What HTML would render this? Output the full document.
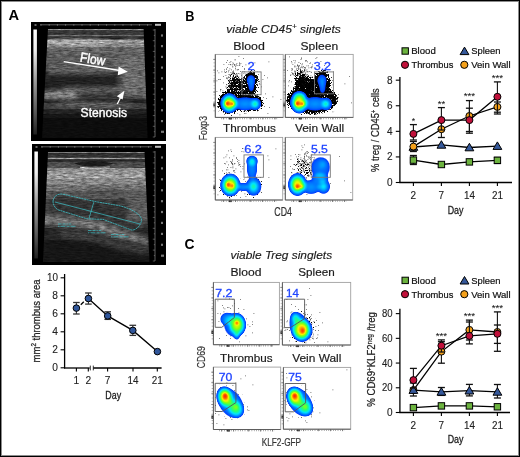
<!DOCTYPE html>
<html><head><meta charset="utf-8"><title>figure</title>
<style>
html,body{margin:0;padding:0;background:#fff;}
body{width:520px;height:457px;overflow:hidden;}
svg{display:block;will-change:transform;}
text{font-family:"Liberation Sans",sans-serif;}
</style></head><body>
<svg width="520" height="457" viewBox="0 0 520 457">
<defs>
<filter id="speck" x="0" y="0" width="1" height="1" color-interpolation-filters="sRGB">
<feTurbulence type="fractalNoise" baseFrequency="0.16 0.7" numOctaves="3" seed="4" result="n"/>
<feColorMatrix in="n" type="matrix" values="1 0 0 0 0  1 0 0 0 0  1 0 0 0 0  0 0 0 0 1" result="g"/>
<feComposite in="SourceGraphic" in2="g" operator="arithmetic" k1="1.1" k2="0.45" k3="0" k4="0"/>
</filter>
<filter id="blur1" x="-20%" y="-20%" width="140%" height="140%"><feGaussianBlur stdDeviation="1.0"/></filter>
<filter id="blur2" x="-30%" y="-30%" width="160%" height="160%"><feGaussianBlur stdDeviation="1.6"/></filter>
<filter id="blurUS" x="-5%" y="-5%" width="110%" height="110%"><feGaussianBlur stdDeviation="0.7"/></filter>
<filter id="blurUS2" x="-30%" y="-30%" width="160%" height="160%"><feGaussianBlur stdDeviation="2.5"/></filter>
<filter id="jet" x="-20%" y="-20%" width="140%" height="140%" color-interpolation-filters="sRGB">
<feGaussianBlur in="SourceAlpha" stdDeviation="0.9" result="b"/>
<feColorMatrix in="b" type="matrix" values="0 0 0 1 0  0 0 0 1 0  0 0 0 1 0  0 0 0 1 0" result="c"/>
<feComponentTransfer in="c"><feFuncR type="table" tableValues="0.000 0.000 0.000 0.000 0.000 0.000 0.000 0.000 0.000 0.000 0.000 0.000 0.000 0.000 0.000 0.000 0.000 0.005 0.032 0.059 0.086 0.112 0.139 0.200 0.283 0.367 0.450 0.533 0.640 0.752 0.865 0.978 1.000 1.000 1.000 1.000 1.000 1.000 1.000 1.000 1.000"/><feFuncG type="table" tableValues="0.100 0.133 0.167 0.205 0.247 0.289 0.332 0.374 0.416 0.458 0.500 0.559 0.618 0.676 0.735 0.794 0.853 0.904 0.921 0.939 0.957 0.975 0.993 1.000 1.000 1.000 1.000 1.000 0.990 0.978 0.965 0.952 0.850 0.725 0.600 0.475 0.375 0.281 0.188 0.094 0.000"/><feFuncB type="table" tableValues="1.000 1.000 1.000 1.000 1.000 1.000 1.000 1.000 1.000 1.000 1.000 1.000 1.000 1.000 1.000 1.000 1.000 0.980 0.882 0.784 0.686 0.588 0.489 0.400 0.317 0.233 0.150 0.067 0.040 0.028 0.015 0.003 0.000 0.000 0.000 0.000 0.000 0.000 0.000 0.000 0.000"/><feFuncA type="table" tableValues="0 0 1 1 1 1 1 1 1 1 1 1 1 1 1 1 1 1 1 1"/></feComponentTransfer>
</filter>
<filter id="sh" x="-30%" y="-30%" width="160%" height="160%" color-interpolation-filters="sRGB">
<feGaussianBlur in="SourceAlpha" stdDeviation="1.6" result="a"/>
<feTurbulence type="fractalNoise" baseFrequency="1.3" numOctaves="1" seed="5" result="n"/>
<feColorMatrix in="n" type="matrix" values="0 0 0 0 0  0 0 0 0 0  0 0 0 0 0  -2.25 0 0 0 1.625" result="ninv"/>
<feComposite in="a" in2="ninv" operator="arithmetic" k1="0" k2="1" k3="1" k4="-1" result="d"/>
<feComponentTransfer in="d"><feFuncA type="table" tableValues="0 0.9 1 1 1 1 1 1 1 1"/></feComponentTransfer>
</filter>
<radialGradient id="lobe"><stop offset="0" stop-color="#000" stop-opacity="0.8"/><stop offset="0.35" stop-color="#000" stop-opacity="0.74"/><stop offset="0.5" stop-color="#000" stop-opacity="0.58"/><stop offset="0.62" stop-color="#000" stop-opacity="0.45"/><stop offset="0.76" stop-color="#000" stop-opacity="0.3"/><stop offset="1" stop-color="#000" stop-opacity="0"/></radialGradient>
<radialGradient id="flat"><stop offset="0" stop-color="#000" stop-opacity="1"/><stop offset="0.6" stop-color="#000" stop-opacity="0.75"/><stop offset="0.85" stop-color="#000" stop-opacity="0.45"/><stop offset="1" stop-color="#000" stop-opacity="0"/></radialGradient>
<radialGradient id="cone"><stop offset="0" stop-color="#000" stop-opacity="1"/><stop offset="0.5" stop-color="#000" stop-opacity="0.55"/><stop offset="1" stop-color="#000" stop-opacity="0"/></radialGradient>
<linearGradient id="gbar" x1="0" y1="0" x2="0" y2="1">
<stop offset="0" stop-color="#fff"/><stop offset="0.2" stop-color="#eee"/><stop offset="0.5" stop-color="#999"/><stop offset="0.8" stop-color="#555"/><stop offset="1" stop-color="#222"/>
</linearGradient>
</defs>
<rect x="0" y="0" width="520" height="457" fill="#fff"/>

<rect x="31" y="22" width="135" height="119" fill="#000"/>
<rect x="33.4" y="29.5" width="3.5" height="105" fill="url(#gbar)"/>
<rect x="34.5" y="24" width="2" height="2" fill="#666"/>
<line x1="40" y1="24.8" x2="152" y2="24.8" stroke="#777" stroke-width="0.8"/>
<line x1="41.0" y1="24.2" x2="41.0" y2="25.8" stroke="#999" stroke-width="0.6"/>
<line x1="49.2" y1="24.2" x2="49.2" y2="25.8" stroke="#999" stroke-width="0.6"/>
<line x1="57.4" y1="24.2" x2="57.4" y2="25.8" stroke="#999" stroke-width="0.6"/>
<line x1="65.6" y1="24.2" x2="65.6" y2="25.8" stroke="#999" stroke-width="0.6"/>
<line x1="73.8" y1="24.2" x2="73.8" y2="25.8" stroke="#999" stroke-width="0.6"/>
<line x1="82.0" y1="24.2" x2="82.0" y2="25.8" stroke="#999" stroke-width="0.6"/>
<line x1="90.2" y1="24.2" x2="90.2" y2="25.8" stroke="#999" stroke-width="0.6"/>
<line x1="98.4" y1="24.2" x2="98.4" y2="25.8" stroke="#999" stroke-width="0.6"/>
<line x1="106.6" y1="24.2" x2="106.6" y2="25.8" stroke="#999" stroke-width="0.6"/>
<line x1="114.8" y1="24.2" x2="114.8" y2="25.8" stroke="#999" stroke-width="0.6"/>
<line x1="123.0" y1="24.2" x2="123.0" y2="25.8" stroke="#999" stroke-width="0.6"/>
<line x1="131.2" y1="24.2" x2="131.2" y2="25.8" stroke="#999" stroke-width="0.6"/>
<line x1="139.4" y1="24.2" x2="139.4" y2="25.8" stroke="#999" stroke-width="0.6"/>
<line x1="147.6" y1="24.2" x2="147.6" y2="25.8" stroke="#999" stroke-width="0.6"/>
<rect x="155" y="23.8" width="6" height="2" fill="#bbb"/>
<line x1="155" y1="29" x2="155" y2="137" stroke="#777" stroke-width="0.8"/>
<line x1="152.8" y1="30.0" x2="155" y2="30.0" stroke="#888" stroke-width="0.6"/>
<line x1="153.8" y1="35.4" x2="155" y2="35.4" stroke="#888" stroke-width="0.6"/>
<line x1="152.8" y1="40.7" x2="155" y2="40.7" stroke="#888" stroke-width="0.6"/>
<line x1="153.8" y1="46.0" x2="155" y2="46.0" stroke="#888" stroke-width="0.6"/>
<line x1="152.8" y1="51.4" x2="155" y2="51.4" stroke="#888" stroke-width="0.6"/>
<line x1="153.8" y1="56.8" x2="155" y2="56.8" stroke="#888" stroke-width="0.6"/>
<line x1="152.8" y1="62.1" x2="155" y2="62.1" stroke="#888" stroke-width="0.6"/>
<line x1="153.8" y1="67.5" x2="155" y2="67.5" stroke="#888" stroke-width="0.6"/>
<line x1="152.8" y1="72.8" x2="155" y2="72.8" stroke="#888" stroke-width="0.6"/>
<line x1="153.8" y1="78.2" x2="155" y2="78.2" stroke="#888" stroke-width="0.6"/>
<line x1="152.8" y1="83.5" x2="155" y2="83.5" stroke="#888" stroke-width="0.6"/>
<line x1="153.8" y1="88.8" x2="155" y2="88.8" stroke="#888" stroke-width="0.6"/>
<line x1="152.8" y1="94.2" x2="155" y2="94.2" stroke="#888" stroke-width="0.6"/>
<line x1="153.8" y1="99.5" x2="155" y2="99.5" stroke="#888" stroke-width="0.6"/>
<line x1="152.8" y1="104.9" x2="155" y2="104.9" stroke="#888" stroke-width="0.6"/>
<line x1="153.8" y1="110.2" x2="155" y2="110.2" stroke="#888" stroke-width="0.6"/>
<line x1="152.8" y1="115.6" x2="155" y2="115.6" stroke="#888" stroke-width="0.6"/>
<line x1="153.8" y1="121.0" x2="155" y2="121.0" stroke="#888" stroke-width="0.6"/>
<line x1="152.8" y1="126.3" x2="155" y2="126.3" stroke="#888" stroke-width="0.6"/>
<line x1="153.8" y1="131.7" x2="155" y2="131.7" stroke="#888" stroke-width="0.6"/>
<line x1="152.8" y1="137.0" x2="155" y2="137.0" stroke="#888" stroke-width="0.6"/>
<rect x="161" y="34.4" width="2" height="2.2" fill="#777"/>
<rect x="161" y="45.0" width="2" height="2.2" fill="#777"/>
<rect x="161" y="55.8" width="2" height="2.2" fill="#777"/>
<rect x="161" y="66.5" width="2" height="2.2" fill="#777"/>
<rect x="161" y="77.2" width="2" height="2.2" fill="#777"/>
<rect x="161" y="87.8" width="2" height="2.2" fill="#777"/>
<rect x="161" y="98.5" width="2" height="2.2" fill="#777"/>
<rect x="161" y="109.2" width="2" height="2.2" fill="#777"/>
<rect x="161" y="120.0" width="2" height="2.2" fill="#777"/>
<rect x="161" y="130.7" width="3" height="2.2" fill="#777"/>
<clipPath id="sec1"><polygon points="48,29 143.6,29 147.6,138 42,138"/></clipPath>
<g clip-path="url(#sec1)"><g filter="url(#speck)">
<rect x="31" y="22" width="135" height="119" fill="#000"/>
<g filter="url(#blurUS)">
<rect x="31" y="29" width="135" height="1.5" fill="#8c8c8c"/>
<rect x="31" y="30.5" width="135" height="4.5" fill="#373737"/>
<rect x="31" y="35" width="135" height="1.6000000000000014" fill="#696969"/>
<rect x="31" y="36.6" width="135" height="2.8999999999999986" fill="#202020"/>
<rect x="31" y="39.5" width="135" height="3.5" fill="#969696"/>
<rect x="31" y="43" width="135" height="4" fill="#848484"/>
<rect x="31" y="47" width="135" height="6" fill="#646464"/>
<rect x="31" y="53" width="135" height="7" fill="#5c5c5c"/>
<rect x="31" y="60" width="135" height="8" fill="#585858"/>
<rect x="31" y="68" width="135" height="4" fill="#4a4a4a"/>
<rect x="31" y="72" width="135" height="18" fill="#2a2a2a"/>
<rect x="31" y="90" width="135" height="2" fill="#3c3c3c"/>
<rect x="31" y="92" width="135" height="7" fill="#343434"/>
<rect x="31" y="99" width="135" height="4" fill="#1e1e1e"/>
<rect x="31" y="103" width="135" height="6" fill="#3e3e3e"/>
<rect x="31" y="109" width="135" height="5" fill="#222222"/>
<rect x="31" y="114" width="135" height="4" fill="#181818"/>
<rect x="31" y="118" width="135" height="21" fill="#101010"/>
</g><g filter="url(#blurUS2)">
<path d="M42,73 L100,73 C114,75 122,81 121,87 C119,92 105,93 92,93 L42,93 Z" fill="#202020"/>
<path d="M116,58 L150,56 L150,98 L123,96 C121,90 122,80 116,58 Z" fill="#6c6c6c"/>
<ellipse cx="60" cy="95.5" rx="20" ry="3.4" fill="#909090"/>
<path d="M64,89 L112,89 C116,89 120,88 123,86 L124,88 C120,91 116,91.5 112,91.5 L64,91.5 Z" fill="#858585"/>
<ellipse cx="95" cy="104.5" rx="40" ry="2.6" fill="#6a6a6a"/>
<rect x="48" y="70.3" width="66" height="1.5" fill="#a0a0a0"/>
<ellipse cx="75" cy="42" rx="36" ry="2.4" fill="#bcbcbc"/>
<path d="M125,38 C135,39 142,41 146,44 L146,48 C140,45 132,43 125,42 Z" fill="#909090"/>
</g><g filter="url(#blurUS)">
</g></g></g>
<line x1="63.7" y1="61.7" x2="120" y2="70.5" stroke="#fff" stroke-width="1.3"/>
<polygon points="127.8,71.8 118.6,66.4 117.8,75.2" fill="#fff"/>
<text x="79.60" y="61.60" font-size="13.5" fill="#fff" stroke="#fff" stroke-width="0.45" textLength="25.20" lengthAdjust="spacingAndGlyphs" transform="rotate(9 79.60 61.60)">Flow</text>
<line x1="117.3" y1="104" x2="120.6" y2="97.5" stroke="#fff" stroke-width="1.3"/>
<polygon points="124.4,90.8 116.8,96.3 122.6,99.6" fill="#fff"/>
<text x="80.60" y="116.90" font-size="12.6" fill="#fff" stroke="#fff" stroke-width="0.4" textLength="46.40" lengthAdjust="spacingAndGlyphs">Stenosis</text>
<rect x="32" y="144" width="134" height="121" fill="#000"/>
<rect x="34.4" y="151.5" width="3.5" height="107" fill="url(#gbar)"/>
<rect x="35.5" y="146" width="2" height="2" fill="#666"/>
<line x1="41" y1="146.8" x2="152" y2="146.8" stroke="#777" stroke-width="0.8"/>
<line x1="42.0" y1="146.2" x2="42.0" y2="147.8" stroke="#999" stroke-width="0.6"/>
<line x1="50.2" y1="146.2" x2="50.2" y2="147.8" stroke="#999" stroke-width="0.6"/>
<line x1="58.4" y1="146.2" x2="58.4" y2="147.8" stroke="#999" stroke-width="0.6"/>
<line x1="66.6" y1="146.2" x2="66.6" y2="147.8" stroke="#999" stroke-width="0.6"/>
<line x1="74.8" y1="146.2" x2="74.8" y2="147.8" stroke="#999" stroke-width="0.6"/>
<line x1="83.0" y1="146.2" x2="83.0" y2="147.8" stroke="#999" stroke-width="0.6"/>
<line x1="91.2" y1="146.2" x2="91.2" y2="147.8" stroke="#999" stroke-width="0.6"/>
<line x1="99.4" y1="146.2" x2="99.4" y2="147.8" stroke="#999" stroke-width="0.6"/>
<line x1="107.6" y1="146.2" x2="107.6" y2="147.8" stroke="#999" stroke-width="0.6"/>
<line x1="115.8" y1="146.2" x2="115.8" y2="147.8" stroke="#999" stroke-width="0.6"/>
<line x1="124.0" y1="146.2" x2="124.0" y2="147.8" stroke="#999" stroke-width="0.6"/>
<line x1="132.2" y1="146.2" x2="132.2" y2="147.8" stroke="#999" stroke-width="0.6"/>
<line x1="140.4" y1="146.2" x2="140.4" y2="147.8" stroke="#999" stroke-width="0.6"/>
<line x1="148.6" y1="146.2" x2="148.6" y2="147.8" stroke="#999" stroke-width="0.6"/>
<rect x="155" y="145.8" width="6" height="2" fill="#bbb"/>
<line x1="155" y1="151" x2="155" y2="261" stroke="#777" stroke-width="0.8"/>
<line x1="152.8" y1="152.0" x2="155" y2="152.0" stroke="#888" stroke-width="0.6"/>
<line x1="153.8" y1="157.4" x2="155" y2="157.4" stroke="#888" stroke-width="0.6"/>
<line x1="152.8" y1="162.9" x2="155" y2="162.9" stroke="#888" stroke-width="0.6"/>
<line x1="153.8" y1="168.3" x2="155" y2="168.3" stroke="#888" stroke-width="0.6"/>
<line x1="152.8" y1="173.8" x2="155" y2="173.8" stroke="#888" stroke-width="0.6"/>
<line x1="153.8" y1="179.2" x2="155" y2="179.2" stroke="#888" stroke-width="0.6"/>
<line x1="152.8" y1="184.7" x2="155" y2="184.7" stroke="#888" stroke-width="0.6"/>
<line x1="153.8" y1="190.2" x2="155" y2="190.2" stroke="#888" stroke-width="0.6"/>
<line x1="152.8" y1="195.6" x2="155" y2="195.6" stroke="#888" stroke-width="0.6"/>
<line x1="153.8" y1="201.1" x2="155" y2="201.1" stroke="#888" stroke-width="0.6"/>
<line x1="152.8" y1="206.5" x2="155" y2="206.5" stroke="#888" stroke-width="0.6"/>
<line x1="153.8" y1="211.9" x2="155" y2="211.9" stroke="#888" stroke-width="0.6"/>
<line x1="152.8" y1="217.4" x2="155" y2="217.4" stroke="#888" stroke-width="0.6"/>
<line x1="153.8" y1="222.8" x2="155" y2="222.8" stroke="#888" stroke-width="0.6"/>
<line x1="152.8" y1="228.3" x2="155" y2="228.3" stroke="#888" stroke-width="0.6"/>
<line x1="153.8" y1="233.8" x2="155" y2="233.8" stroke="#888" stroke-width="0.6"/>
<line x1="152.8" y1="239.2" x2="155" y2="239.2" stroke="#888" stroke-width="0.6"/>
<line x1="153.8" y1="244.7" x2="155" y2="244.7" stroke="#888" stroke-width="0.6"/>
<line x1="152.8" y1="250.1" x2="155" y2="250.1" stroke="#888" stroke-width="0.6"/>
<line x1="153.8" y1="255.6" x2="155" y2="255.6" stroke="#888" stroke-width="0.6"/>
<line x1="152.8" y1="261.0" x2="155" y2="261.0" stroke="#888" stroke-width="0.6"/>
<rect x="161" y="156.4" width="2" height="2.2" fill="#777"/>
<rect x="161" y="167.3" width="2" height="2.2" fill="#777"/>
<rect x="161" y="178.2" width="2" height="2.2" fill="#777"/>
<rect x="161" y="189.2" width="2" height="2.2" fill="#777"/>
<rect x="161" y="200.1" width="2" height="2.2" fill="#777"/>
<rect x="161" y="210.9" width="2" height="2.2" fill="#777"/>
<rect x="161" y="221.8" width="2" height="2.2" fill="#777"/>
<rect x="161" y="232.8" width="2" height="2.2" fill="#777"/>
<rect x="161" y="243.7" width="2" height="2.2" fill="#777"/>
<rect x="161" y="254.6" width="3" height="2.2" fill="#777"/>
<clipPath id="sec2"><polygon points="48,152 144.5,152 149.5,262 43,262"/></clipPath>
<g clip-path="url(#sec2)"><g filter="url(#speck)">
<rect x="32" y="144" width="134" height="121" fill="#000"/>
<g filter="url(#blurUS)">
<rect x="32" y="152" width="134" height="1.3000000000000114" fill="#7d7d7d"/>
<rect x="32" y="153.3" width="134" height="4.199999999999989" fill="#303030"/>
<rect x="32" y="157.5" width="134" height="1.5" fill="#737373"/>
<rect x="32" y="159" width="134" height="2.5" fill="#2a2a2a"/>
<rect x="32" y="161.5" width="134" height="6.5" fill="#4e4e4e"/>
<rect x="32" y="168" width="134" height="4" fill="#8c8c8c"/>
<rect x="32" y="172" width="134" height="7" fill="#989898"/>
<rect x="32" y="179" width="134" height="6" fill="#848484"/>
<rect x="32" y="185" width="134" height="6" fill="#6e6e6e"/>
<rect x="32" y="191" width="134" height="8" fill="#585858"/>
<rect x="32" y="199" width="134" height="17" fill="#3a3a3a"/>
<rect x="32" y="216" width="134" height="12" fill="#373737"/>
<rect x="32" y="228" width="134" height="12" fill="#282828"/>
<rect x="32" y="240" width="134" height="23" fill="#161616"/>
</g><g filter="url(#blurUS2)">
<polygon points="53,201 57,194 95,202 120,206 141,218 132,230 103,219 87,219 57,210" fill="#303030"/>
<polygon points="42,215 70,218 100,222 125,231 150,239 150,245 120,238 95,229 70,225 42,223" fill="#7e7e7e"/>
<polygon points="60,229 95,233 120,242 150,248 150,255 120,250 95,242 60,237" fill="#3e3e3e"/>
<rect x="128" y="196" width="22" height="26" fill="#5a5a5a"/>
<ellipse cx="105" cy="193" rx="20" ry="3" fill="#4a4a4a"/>
</g><g filter="url(#blurUS)">
<path d="M74,163.8 C85,160.2 103,160.2 114,163.8 C104,167.2 85,167.2 74,163.8 Z" fill="#1a1a1a"/>
<path d="M80,167.2 C90,168.6 102,168.6 110,166.8" stroke="#c0c0c0" stroke-width="1.1" fill="none"/>
<rect x="48" y="158.2" width="100" height="0.9" fill="#a0a0a0"/>
</g></g></g>
<path d="M53,201 C54,196 57,194 62,194 L95,201.5 L120,205.8 C132,209 140,214 141.5,219 C142,224 137,230 132,230.2 L103,219.3 L87,218.8 L58,209.8 C55,208 53,205 53,201 Z" fill="none" stroke="#3cc4cc" stroke-width="0.75" stroke-dasharray="2.2 0.5"/>
<line x1="55" y1="202" x2="140" y2="224" stroke="#3cc4cc" stroke-width="0.7"/>
<line x1="93.8" y1="202.2" x2="89.1" y2="218" stroke="#3cc4cc" stroke-width="0.7"/>
<path d="M58 224h3.5m1 0h3m1 0h1.2m1 0h2.5M58 226.3h1.5m1 0h5m1 0h3m1 0h5" stroke="#3cc4cc" stroke-width="0.9" opacity="0.75"/>
<path d="M88 230.5h3.5m1 0h3m1 0h1.2m1 0h2.5M88 232.8h1.5m1 0h5m1 0h3m1 0h5" stroke="#3cc4cc" stroke-width="0.9" opacity="0.75"/>
<path d="M111 234.5h3.5m1 0h3m1 0h1.2m1 0h2.5M111 236.8h1.5m1 0h5m1 0h3m1 0h5" stroke="#3cc4cc" stroke-width="0.9" opacity="0.75"/>
<g>
<line x1="64.6" y1="274.0" x2="64.6" y2="368.4" stroke="#000" stroke-width="1.3"/>
<line x1="64" y1="368" x2="89.7" y2="368" stroke="#000" stroke-width="1.3"/>
<line x1="93.3" y1="368" x2="161.6" y2="368" stroke="#000" stroke-width="1.3"/>
<line x1="90.3" y1="365.6" x2="90.3" y2="370.4" stroke="#000" stroke-width="0.8"/>
<line x1="93.3" y1="365.6" x2="93.3" y2="370.4" stroke="#000" stroke-width="0.8"/>
<line x1="60.6" y1="367.80" x2="64.6" y2="367.80" stroke="#000" stroke-width="1.1"/>
<text x="57.90" y="371.10" font-size="10.2" fill="#222" stroke="#222" stroke-width="0.1" text-anchor="end">0</text>
<line x1="60.6" y1="349.80" x2="64.6" y2="349.80" stroke="#000" stroke-width="1.1"/>
<text x="57.90" y="353.10" font-size="10.2" fill="#222" stroke="#222" stroke-width="0.1" text-anchor="end">2</text>
<line x1="60.6" y1="331.80" x2="64.6" y2="331.80" stroke="#000" stroke-width="1.1"/>
<text x="57.90" y="335.10" font-size="10.2" fill="#222" stroke="#222" stroke-width="0.1" text-anchor="end">4</text>
<line x1="60.6" y1="313.80" x2="64.6" y2="313.80" stroke="#000" stroke-width="1.1"/>
<text x="57.90" y="317.10" font-size="10.2" fill="#222" stroke="#222" stroke-width="0.1" text-anchor="end">6</text>
<line x1="60.6" y1="295.80" x2="64.6" y2="295.80" stroke="#000" stroke-width="1.1"/>
<text x="57.90" y="299.10" font-size="10.2" fill="#222" stroke="#222" stroke-width="0.1" text-anchor="end">8</text>
<line x1="60.6" y1="277.80" x2="64.6" y2="277.80" stroke="#000" stroke-width="1.1"/>
<text x="57.90" y="281.10" font-size="10.2" fill="#222" stroke="#222" stroke-width="0.1" text-anchor="end" textLength="11.00" lengthAdjust="spacingAndGlyphs">10</text>
<line x1="76.4" y1="368" x2="76.4" y2="371.6" stroke="#000" stroke-width="1.1"/>
<text x="76.40" y="384.40" font-size="10.2" fill="#222" stroke="#222" stroke-width="0.1" text-anchor="middle">1</text>
<line x1="88.3" y1="368" x2="88.3" y2="371.6" stroke="#000" stroke-width="1.1"/>
<text x="88.30" y="384.40" font-size="10.2" fill="#222" stroke="#222" stroke-width="0.1" text-anchor="middle">2</text>
<line x1="107.6" y1="368" x2="107.6" y2="371.6" stroke="#000" stroke-width="1.1"/>
<text x="107.60" y="384.40" font-size="10.2" fill="#222" stroke="#222" stroke-width="0.1" text-anchor="middle">7</text>
<line x1="133.0" y1="368" x2="133.0" y2="371.6" stroke="#000" stroke-width="1.1"/>
<text x="133.00" y="384.40" font-size="10.2" fill="#222" stroke="#222" stroke-width="0.1" text-anchor="middle" textLength="11.00" lengthAdjust="spacingAndGlyphs">14</text>
<line x1="157.3" y1="368" x2="157.3" y2="371.6" stroke="#000" stroke-width="1.1"/>
<text x="157.30" y="384.40" font-size="10.2" fill="#222" stroke="#222" stroke-width="0.1" text-anchor="middle" textLength="11.00" lengthAdjust="spacingAndGlyphs">21</text>
<text x="113.20" y="398.50" font-size="10.6" fill="#222" stroke="#222" stroke-width="0.3" text-anchor="middle" textLength="15.80" lengthAdjust="spacingAndGlyphs">Day</text>
<text x="40.00" y="362.40" font-size="10.6" fill="#222" stroke="#222" stroke-width="0.25" textLength="83.00" lengthAdjust="spacingAndGlyphs" transform="rotate(-90 40.00 362.40)">mm<tspan font-size="7" dy="-4">2</tspan><tspan dy="4"> thrombus area</tspan></text>
<line x1="76.40" y1="302.50" x2="76.40" y2="314.00" stroke="#333" stroke-width="1.1"/>
<line x1="73.10" y1="302.50" x2="79.70" y2="302.50" stroke="#333" stroke-width="1.3"/>
<line x1="73.10" y1="314.00" x2="79.70" y2="314.00" stroke="#333" stroke-width="1.3"/>
<line x1="88.40" y1="293.00" x2="88.40" y2="304.10" stroke="#333" stroke-width="1.1"/>
<line x1="85.10" y1="293.00" x2="91.70" y2="293.00" stroke="#333" stroke-width="1.3"/>
<line x1="85.10" y1="304.10" x2="91.70" y2="304.10" stroke="#333" stroke-width="1.3"/>
<line x1="107.70" y1="311.80" x2="107.70" y2="319.40" stroke="#333" stroke-width="1.1"/>
<line x1="104.40" y1="311.80" x2="111.00" y2="311.80" stroke="#333" stroke-width="1.3"/>
<line x1="104.40" y1="319.40" x2="111.00" y2="319.40" stroke="#333" stroke-width="1.3"/>
<line x1="132.80" y1="325.30" x2="132.80" y2="335.40" stroke="#333" stroke-width="1.1"/>
<line x1="129.50" y1="325.30" x2="136.10" y2="325.30" stroke="#333" stroke-width="1.3"/>
<line x1="129.50" y1="335.40" x2="136.10" y2="335.40" stroke="#333" stroke-width="1.3"/>
<line x1="80.8" y1="304.8" x2="83.8" y2="301.8" stroke="#000" stroke-width="1.3"/>
<polyline points="88.40,298.50 107.70,315.90 132.80,330.40 157.40,351.60" fill="none" stroke="#000" stroke-width="1.3"/>
<circle cx="76.40" cy="308.10" r="3.3" fill="#30569a" stroke="#000" stroke-width="1"/>
<circle cx="88.40" cy="298.50" r="3.3" fill="#30569a" stroke="#000" stroke-width="1"/>
<circle cx="107.70" cy="315.90" r="3.3" fill="#30569a" stroke="#000" stroke-width="1"/>
<circle cx="132.80" cy="330.40" r="3.3" fill="#30569a" stroke="#000" stroke-width="1"/>
<circle cx="157.40" cy="351.60" r="3.3" fill="#30569a" stroke="#000" stroke-width="1"/>
</g>
<rect x="402.00" y="47.80" width="6.40" height="6.40" fill="#6cb33f" stroke="#000" stroke-width="1"/>
<text x="411.20" y="54.30" font-size="9.6" fill="#111" stroke="#111" stroke-width="0.2" textLength="24.60" lengthAdjust="spacingAndGlyphs">Blood</text>
<polygon points="464.50,47.10 468.90,54.60 460.10,54.60" fill="#35589a" stroke="#000" stroke-width="1" stroke-linejoin="round"/>
<text x="471.20" y="54.30" font-size="9.6" fill="#111" stroke="#111" stroke-width="0.2" textLength="29.20" lengthAdjust="spacingAndGlyphs">Spleen</text>
<circle cx="405.00" cy="64.80" r="3.6" fill="#c0103a" stroke="#000" stroke-width="1"/>
<text x="411.50" y="68.30" font-size="9.6" fill="#111" stroke="#111" stroke-width="0.2" textLength="41.80" lengthAdjust="spacingAndGlyphs">Thrombus</text>
<circle cx="464.30" cy="64.80" r="3.6" fill="#f4a11c" stroke="#000" stroke-width="1"/>
<text x="471.20" y="68.30" font-size="9.6" fill="#111" stroke="#111" stroke-width="0.2" textLength="39.40" lengthAdjust="spacingAndGlyphs">Vein Wall</text>
<line x1="399.9" y1="77" x2="399.9" y2="183.1" stroke="#000" stroke-width="1.3"/>
<line x1="399.3" y1="182.5" x2="512" y2="182.5" stroke="#000" stroke-width="1.3"/>
<line x1="395.8" y1="182.50" x2="399.9" y2="182.50" stroke="#000" stroke-width="1.1"/>
<text x="392.60" y="186.00" font-size="10.0" fill="#222" stroke="#222" stroke-width="0.12" text-anchor="end">0</text>
<line x1="395.8" y1="156.92" x2="399.9" y2="156.92" stroke="#000" stroke-width="1.1"/>
<text x="392.60" y="160.42" font-size="10.0" fill="#222" stroke="#222" stroke-width="0.12" text-anchor="end">2</text>
<line x1="395.8" y1="131.34" x2="399.9" y2="131.34" stroke="#000" stroke-width="1.1"/>
<text x="392.60" y="134.84" font-size="10.0" fill="#222" stroke="#222" stroke-width="0.12" text-anchor="end">4</text>
<line x1="395.8" y1="105.76" x2="399.9" y2="105.76" stroke="#000" stroke-width="1.1"/>
<text x="392.60" y="109.26" font-size="10.0" fill="#222" stroke="#222" stroke-width="0.12" text-anchor="end">6</text>
<line x1="395.8" y1="80.18" x2="399.9" y2="80.18" stroke="#000" stroke-width="1.1"/>
<text x="392.60" y="83.68" font-size="10.0" fill="#222" stroke="#222" stroke-width="0.12" text-anchor="end">8</text>
<line x1="413.4" y1="182.5" x2="413.4" y2="186.1" stroke="#000" stroke-width="1.1"/>
<text x="413.40" y="199.00" font-size="10.0" fill="#222" stroke="#222" stroke-width="0.12" text-anchor="middle">2</text>
<line x1="441.4" y1="182.5" x2="441.4" y2="186.1" stroke="#000" stroke-width="1.1"/>
<text x="441.40" y="199.00" font-size="10.0" fill="#222" stroke="#222" stroke-width="0.12" text-anchor="middle">7</text>
<line x1="469.4" y1="182.5" x2="469.4" y2="186.1" stroke="#000" stroke-width="1.1"/>
<text x="469.40" y="199.00" font-size="10.0" fill="#222" stroke="#222" stroke-width="0.12" text-anchor="middle" textLength="11.00" lengthAdjust="spacingAndGlyphs">14</text>
<line x1="497.4" y1="182.5" x2="497.4" y2="186.1" stroke="#000" stroke-width="1.1"/>
<text x="497.40" y="199.00" font-size="10.0" fill="#222" stroke="#222" stroke-width="0.12" text-anchor="middle" textLength="11.00" lengthAdjust="spacingAndGlyphs">21</text>
<text x="455.60" y="214.00" font-size="11" fill="#222" stroke="#222" stroke-width="0.3" text-anchor="middle" textLength="15.80" lengthAdjust="spacingAndGlyphs">Day</text>
<text x="379.40" y="171.90" font-size="10.2" fill="#222" stroke="#222" stroke-width="0.22" textLength="83.60" lengthAdjust="spacingAndGlyphs" transform="rotate(-90 379.40 171.90)">% treg / CD45<tspan font-size="6.5" dy="-3.5">+</tspan><tspan dy="3.5"> cells</tspan></text>
<polyline points="413.40,160.10 441.40,164.50 469.40,161.90 497.40,160.30" fill="none" stroke="#000" stroke-width="1.3"/>
<line x1="413.40" y1="155.50" x2="413.40" y2="164.50" stroke="#111" stroke-width="1.1"/>
<line x1="409.90" y1="155.50" x2="416.90" y2="155.50" stroke="#111" stroke-width="1.3"/>
<line x1="409.90" y1="164.50" x2="416.90" y2="164.50" stroke="#111" stroke-width="1.3"/>
<line x1="497.40" y1="157.50" x2="497.40" y2="163.50" stroke="#111" stroke-width="1.1"/>
<line x1="493.90" y1="157.50" x2="500.90" y2="157.50" stroke="#111" stroke-width="1.3"/>
<line x1="493.90" y1="163.50" x2="500.90" y2="163.50" stroke="#111" stroke-width="1.3"/>
<rect x="410.20" y="156.90" width="6.40" height="6.40" fill="#6cb33f" stroke="#000" stroke-width="1"/>
<rect x="438.20" y="161.30" width="6.40" height="6.40" fill="#6cb33f" stroke="#000" stroke-width="1"/>
<rect x="466.20" y="158.70" width="6.40" height="6.40" fill="#6cb33f" stroke="#000" stroke-width="1"/>
<rect x="494.20" y="157.10" width="6.40" height="6.40" fill="#6cb33f" stroke="#000" stroke-width="1"/>
<polyline points="413.40,147.00 441.40,144.90 469.40,147.50 497.40,146.10" fill="none" stroke="#000" stroke-width="1.3"/>
<polygon points="413.40,142.80 417.80,150.30 409.00,150.30" fill="#35589a" stroke="#000" stroke-width="1" stroke-linejoin="round"/>
<polygon points="441.40,140.70 445.80,148.20 437.00,148.20" fill="#35589a" stroke="#000" stroke-width="1" stroke-linejoin="round"/>
<polygon points="469.40,143.30 473.80,150.80 465.00,150.80" fill="#35589a" stroke="#000" stroke-width="1" stroke-linejoin="round"/>
<polygon points="497.40,141.90 501.80,149.40 493.00,149.40" fill="#35589a" stroke="#000" stroke-width="1" stroke-linejoin="round"/>
<line x1="413.40" y1="141.50" x2="413.40" y2="151.50" stroke="#111" stroke-width="1.1"/>
<line x1="409.90" y1="141.50" x2="416.90" y2="141.50" stroke="#111" stroke-width="1.3"/>
<line x1="409.90" y1="151.50" x2="416.90" y2="151.50" stroke="#111" stroke-width="1.3"/>
<line x1="441.40" y1="120.50" x2="441.40" y2="137.50" stroke="#111" stroke-width="1.1"/>
<line x1="437.90" y1="120.50" x2="444.90" y2="120.50" stroke="#111" stroke-width="1.3"/>
<line x1="437.90" y1="137.50" x2="444.90" y2="137.50" stroke="#111" stroke-width="1.3"/>
<line x1="469.40" y1="108.20" x2="469.40" y2="133.20" stroke="#111" stroke-width="1.1"/>
<line x1="465.90" y1="108.20" x2="472.90" y2="108.20" stroke="#111" stroke-width="1.3"/>
<line x1="465.90" y1="133.20" x2="472.90" y2="133.20" stroke="#111" stroke-width="1.3"/>
<line x1="497.40" y1="102.00" x2="497.40" y2="112.20" stroke="#111" stroke-width="1.1"/>
<line x1="493.90" y1="102.00" x2="500.90" y2="102.00" stroke="#111" stroke-width="1.3"/>
<line x1="493.90" y1="112.20" x2="500.90" y2="112.20" stroke="#111" stroke-width="1.3"/>
<polyline points="413.40,146.60 441.40,129.20 469.40,116.00 497.40,106.90" fill="none" stroke="#000" stroke-width="1.3"/>
<circle cx="413.40" cy="146.60" r="3.5" fill="#f4a11c" stroke="#000" stroke-width="1"/>
<circle cx="441.40" cy="129.20" r="3.5" fill="#f4a11c" stroke="#000" stroke-width="1"/>
<circle cx="469.40" cy="116.00" r="3.5" fill="#f4a11c" stroke="#000" stroke-width="1"/>
<circle cx="497.40" cy="106.90" r="3.5" fill="#f4a11c" stroke="#000" stroke-width="1"/>
<line x1="413.40" y1="124.60" x2="413.40" y2="140.00" stroke="#111" stroke-width="1.1"/>
<line x1="409.90" y1="124.60" x2="416.90" y2="124.60" stroke="#111" stroke-width="1.3"/>
<line x1="409.90" y1="140.00" x2="416.90" y2="140.00" stroke="#111" stroke-width="1.3"/>
<line x1="441.40" y1="107.60" x2="441.40" y2="130.00" stroke="#111" stroke-width="1.1"/>
<line x1="437.90" y1="107.60" x2="444.90" y2="107.60" stroke="#111" stroke-width="1.3"/>
<line x1="437.90" y1="130.00" x2="444.90" y2="130.00" stroke="#111" stroke-width="1.3"/>
<line x1="469.40" y1="100.60" x2="469.40" y2="131.50" stroke="#111" stroke-width="1.1"/>
<line x1="465.90" y1="100.60" x2="472.90" y2="100.60" stroke="#111" stroke-width="1.3"/>
<line x1="465.90" y1="131.50" x2="472.90" y2="131.50" stroke="#111" stroke-width="1.3"/>
<line x1="497.40" y1="81.90" x2="497.40" y2="114.00" stroke="#111" stroke-width="1.1"/>
<line x1="493.90" y1="81.90" x2="500.90" y2="81.90" stroke="#111" stroke-width="1.3"/>
<line x1="493.90" y1="114.00" x2="500.90" y2="114.00" stroke="#111" stroke-width="1.3"/>
<polyline points="413.40,133.90 441.40,120.10 469.40,120.10 497.40,96.80" fill="none" stroke="#000" stroke-width="1.3"/>
<circle cx="413.40" cy="133.90" r="3.5" fill="#c0103a" stroke="#000" stroke-width="1"/>
<circle cx="441.40" cy="120.10" r="3.5" fill="#c0103a" stroke="#000" stroke-width="1"/>
<circle cx="469.40" cy="120.10" r="3.5" fill="#c0103a" stroke="#000" stroke-width="1"/>
<circle cx="497.40" cy="96.80" r="3.5" fill="#c0103a" stroke="#000" stroke-width="1"/>
<text x="413.40" y="124.00" font-size="9.8" fill="#111" stroke="#111" stroke-width="0.05" text-anchor="middle" textLength="3.40" lengthAdjust="spacingAndGlyphs">*</text>
<text x="441.40" y="106.90" font-size="9.8" fill="#111" stroke="#111" stroke-width="0.05" text-anchor="middle" textLength="7.40" lengthAdjust="spacingAndGlyphs">**</text>
<text x="469.40" y="99.00" font-size="9.8" fill="#111" stroke="#111" stroke-width="0.05" text-anchor="middle" textLength="11.40" lengthAdjust="spacingAndGlyphs">***</text>
<text x="497.40" y="81.00" font-size="9.8" fill="#111" stroke="#111" stroke-width="0.05" text-anchor="middle" textLength="11.40" lengthAdjust="spacingAndGlyphs">***</text>
<rect x="402.00" y="277.20" width="6.40" height="6.40" fill="#6cb33f" stroke="#000" stroke-width="1"/>
<text x="411.20" y="283.70" font-size="9.6" fill="#111" stroke="#111" stroke-width="0.2" textLength="24.60" lengthAdjust="spacingAndGlyphs">Blood</text>
<polygon points="464.50,276.50 468.90,284.00 460.10,284.00" fill="#35589a" stroke="#000" stroke-width="1" stroke-linejoin="round"/>
<text x="471.20" y="283.70" font-size="9.6" fill="#111" stroke="#111" stroke-width="0.2" textLength="29.20" lengthAdjust="spacingAndGlyphs">Spleen</text>
<circle cx="405.00" cy="294.20" r="3.6" fill="#c0103a" stroke="#000" stroke-width="1"/>
<text x="411.50" y="297.70" font-size="9.6" fill="#111" stroke="#111" stroke-width="0.2" textLength="41.80" lengthAdjust="spacingAndGlyphs">Thrombus</text>
<circle cx="464.30" cy="294.20" r="3.6" fill="#f4a11c" stroke="#000" stroke-width="1"/>
<text x="471.20" y="297.70" font-size="9.6" fill="#111" stroke="#111" stroke-width="0.2" textLength="39.40" lengthAdjust="spacingAndGlyphs">Vein Wall</text>
<line x1="399.9" y1="308.8" x2="399.9" y2="413.1" stroke="#000" stroke-width="1.3"/>
<line x1="399.3" y1="412.5" x2="510" y2="412.5" stroke="#000" stroke-width="1.3"/>
<line x1="395.8" y1="412.50" x2="399.9" y2="412.50" stroke="#000" stroke-width="1.1"/>
<text x="392.60" y="416.00" font-size="10.0" fill="#222" stroke="#222" stroke-width="0.12" text-anchor="end">0</text>
<line x1="395.8" y1="387.78" x2="399.9" y2="387.78" stroke="#000" stroke-width="1.1"/>
<text x="392.60" y="391.28" font-size="10.0" fill="#222" stroke="#222" stroke-width="0.12" text-anchor="end" textLength="10.60" lengthAdjust="spacingAndGlyphs">20</text>
<line x1="395.8" y1="363.06" x2="399.9" y2="363.06" stroke="#000" stroke-width="1.1"/>
<text x="392.60" y="366.56" font-size="10.0" fill="#222" stroke="#222" stroke-width="0.12" text-anchor="end" textLength="10.60" lengthAdjust="spacingAndGlyphs">40</text>
<line x1="395.8" y1="338.34" x2="399.9" y2="338.34" stroke="#000" stroke-width="1.1"/>
<text x="392.60" y="341.84" font-size="10.0" fill="#222" stroke="#222" stroke-width="0.12" text-anchor="end" textLength="10.60" lengthAdjust="spacingAndGlyphs">60</text>
<line x1="395.8" y1="313.62" x2="399.9" y2="313.62" stroke="#000" stroke-width="1.1"/>
<text x="392.60" y="317.12" font-size="10.0" fill="#222" stroke="#222" stroke-width="0.12" text-anchor="end" textLength="10.60" lengthAdjust="spacingAndGlyphs">80</text>
<line x1="413.4" y1="412.5" x2="413.4" y2="416.1" stroke="#000" stroke-width="1.1"/>
<text x="413.40" y="429.00" font-size="10.0" fill="#222" stroke="#222" stroke-width="0.12" text-anchor="middle">2</text>
<line x1="441.4" y1="412.5" x2="441.4" y2="416.1" stroke="#000" stroke-width="1.1"/>
<text x="441.40" y="429.00" font-size="10.0" fill="#222" stroke="#222" stroke-width="0.12" text-anchor="middle">7</text>
<line x1="469.4" y1="412.5" x2="469.4" y2="416.1" stroke="#000" stroke-width="1.1"/>
<text x="469.40" y="429.00" font-size="10.0" fill="#222" stroke="#222" stroke-width="0.12" text-anchor="middle" textLength="11.00" lengthAdjust="spacingAndGlyphs">14</text>
<line x1="497.4" y1="412.5" x2="497.4" y2="416.1" stroke="#000" stroke-width="1.1"/>
<text x="497.40" y="429.00" font-size="10.0" fill="#222" stroke="#222" stroke-width="0.12" text-anchor="middle" textLength="11.00" lengthAdjust="spacingAndGlyphs">21</text>
<text x="455.60" y="442.60" font-size="11" fill="#222" stroke="#222" stroke-width="0.3" text-anchor="middle" textLength="15.80" lengthAdjust="spacingAndGlyphs">Day</text>
<text x="375.20" y="406.80" font-size="10.2" fill="#222" stroke="#222" stroke-width="0.22" textLength="94.80" lengthAdjust="spacingAndGlyphs" transform="rotate(-90 375.20 406.80)">% CD69<tspan font-size="6.5" dy="-3.5">+</tspan><tspan dy="3.5">KLF2</tspan><tspan font-size="6.5" dy="-3.5">neg</tspan><tspan dy="3.5"> /treg</tspan></text>
<polyline points="413.40,407.60 441.40,405.90 469.40,405.90 497.40,406.80" fill="none" stroke="#000" stroke-width="1.3"/>
<rect x="410.20" y="404.40" width="6.40" height="6.40" fill="#6cb33f" stroke="#000" stroke-width="1"/>
<rect x="438.20" y="402.70" width="6.40" height="6.40" fill="#6cb33f" stroke="#000" stroke-width="1"/>
<rect x="466.20" y="402.70" width="6.40" height="6.40" fill="#6cb33f" stroke="#000" stroke-width="1"/>
<rect x="494.20" y="403.60" width="6.40" height="6.40" fill="#6cb33f" stroke="#000" stroke-width="1"/>
<line x1="413.40" y1="383.00" x2="413.40" y2="396.00" stroke="#111" stroke-width="1.1"/>
<line x1="409.90" y1="383.00" x2="416.90" y2="383.00" stroke="#111" stroke-width="1.3"/>
<line x1="409.90" y1="396.00" x2="416.90" y2="396.00" stroke="#111" stroke-width="1.3"/>
<line x1="441.40" y1="387.50" x2="441.40" y2="395.40" stroke="#111" stroke-width="1.1"/>
<line x1="437.90" y1="387.50" x2="444.90" y2="387.50" stroke="#111" stroke-width="1.3"/>
<line x1="437.90" y1="395.40" x2="444.90" y2="395.40" stroke="#111" stroke-width="1.3"/>
<line x1="469.40" y1="384.40" x2="469.40" y2="395.90" stroke="#111" stroke-width="1.1"/>
<line x1="465.90" y1="384.40" x2="472.90" y2="384.40" stroke="#111" stroke-width="1.3"/>
<line x1="465.90" y1="395.90" x2="472.90" y2="395.90" stroke="#111" stroke-width="1.3"/>
<line x1="497.40" y1="384.50" x2="497.40" y2="398.00" stroke="#111" stroke-width="1.1"/>
<line x1="493.90" y1="384.50" x2="500.90" y2="384.50" stroke="#111" stroke-width="1.3"/>
<line x1="493.90" y1="398.00" x2="500.90" y2="398.00" stroke="#111" stroke-width="1.3"/>
<line x1="441.40" y1="341.70" x2="441.40" y2="363.20" stroke="#111" stroke-width="1.1"/>
<line x1="437.90" y1="341.70" x2="444.90" y2="341.70" stroke="#111" stroke-width="1.3"/>
<line x1="437.90" y1="363.20" x2="444.90" y2="363.20" stroke="#111" stroke-width="1.3"/>
<line x1="469.40" y1="322.00" x2="469.40" y2="340.00" stroke="#111" stroke-width="1.1"/>
<line x1="465.90" y1="322.00" x2="472.90" y2="322.00" stroke="#111" stroke-width="1.3"/>
<line x1="465.90" y1="340.00" x2="472.90" y2="340.00" stroke="#111" stroke-width="1.3"/>
<line x1="497.40" y1="325.00" x2="497.40" y2="351.30" stroke="#111" stroke-width="1.1"/>
<line x1="493.90" y1="325.00" x2="500.90" y2="325.00" stroke="#111" stroke-width="1.3"/>
<line x1="493.90" y1="351.30" x2="500.90" y2="351.30" stroke="#111" stroke-width="1.3"/>
<polyline points="413.40,390.10 441.40,351.60 469.40,329.90 497.40,332.00" fill="none" stroke="#000" stroke-width="1.3"/>
<circle cx="413.40" cy="390.10" r="3.5" fill="#f4a11c" stroke="#000" stroke-width="1"/>
<circle cx="441.40" cy="351.60" r="3.5" fill="#f4a11c" stroke="#000" stroke-width="1"/>
<circle cx="469.40" cy="329.90" r="3.5" fill="#f4a11c" stroke="#000" stroke-width="1"/>
<circle cx="497.40" cy="332.00" r="3.5" fill="#f4a11c" stroke="#000" stroke-width="1"/>
<polyline points="413.40,390.10 441.40,391.90 469.40,390.70 497.40,391.90" fill="none" stroke="#000" stroke-width="1.3"/>
<polygon points="413.40,385.90 417.80,393.40 409.00,393.40" fill="#35589a" stroke="#000" stroke-width="1" stroke-linejoin="round"/>
<polygon points="441.40,387.70 445.80,395.20 437.00,395.20" fill="#35589a" stroke="#000" stroke-width="1" stroke-linejoin="round"/>
<polygon points="469.40,386.50 473.80,394.00 465.00,394.00" fill="#35589a" stroke="#000" stroke-width="1" stroke-linejoin="round"/>
<polygon points="497.40,387.70 501.80,395.20 493.00,395.20" fill="#35589a" stroke="#000" stroke-width="1" stroke-linejoin="round"/>
<line x1="413.40" y1="368.40" x2="413.40" y2="388.00" stroke="#111" stroke-width="1.1"/>
<line x1="409.90" y1="368.40" x2="416.90" y2="368.40" stroke="#111" stroke-width="1.3"/>
<line x1="409.90" y1="388.00" x2="416.90" y2="388.00" stroke="#111" stroke-width="1.3"/>
<line x1="441.40" y1="339.90" x2="441.40" y2="352.00" stroke="#111" stroke-width="1.1"/>
<line x1="437.90" y1="339.90" x2="444.90" y2="339.90" stroke="#111" stroke-width="1.3"/>
<line x1="437.90" y1="352.00" x2="444.90" y2="352.00" stroke="#111" stroke-width="1.3"/>
<line x1="469.40" y1="320.10" x2="469.40" y2="343.90" stroke="#111" stroke-width="1.1"/>
<line x1="465.90" y1="320.10" x2="472.90" y2="320.10" stroke="#111" stroke-width="1.3"/>
<line x1="465.90" y1="343.90" x2="472.90" y2="343.90" stroke="#111" stroke-width="1.3"/>
<line x1="497.40" y1="311.90" x2="497.40" y2="343.40" stroke="#111" stroke-width="1.1"/>
<line x1="493.90" y1="311.90" x2="500.90" y2="311.90" stroke="#111" stroke-width="1.3"/>
<line x1="493.90" y1="343.40" x2="500.90" y2="343.40" stroke="#111" stroke-width="1.3"/>
<polyline points="413.40,380.10 441.40,345.70 469.40,335.90 497.40,333.80" fill="none" stroke="#000" stroke-width="1.3"/>
<circle cx="413.40" cy="380.10" r="3.5" fill="#c0103a" stroke="#000" stroke-width="1"/>
<circle cx="441.40" cy="345.70" r="3.5" fill="#c0103a" stroke="#000" stroke-width="1"/>
<circle cx="469.40" cy="335.90" r="3.5" fill="#c0103a" stroke="#000" stroke-width="1"/>
<circle cx="497.40" cy="333.80" r="3.5" fill="#c0103a" stroke="#000" stroke-width="1"/>
<text x="441.40" y="339.20" font-size="9.8" fill="#111" stroke="#111" stroke-width="0.05" text-anchor="middle" textLength="11.40" lengthAdjust="spacingAndGlyphs">***</text>
<text x="469.40" y="318.90" font-size="9.8" fill="#111" stroke="#111" stroke-width="0.05" text-anchor="middle" textLength="11.40" lengthAdjust="spacingAndGlyphs">***</text>
<text x="497.40" y="311.00" font-size="9.8" fill="#111" stroke="#111" stroke-width="0.05" text-anchor="middle" textLength="11.40" lengthAdjust="spacingAndGlyphs">***</text>
<text x="8.50" y="20.40" font-size="15.2" fill="#000" font-weight="bold" textLength="10.60" lengthAdjust="spacingAndGlyphs">A</text>
<text x="185.30" y="20.50" font-size="14.4" fill="#000" font-weight="bold" textLength="9.20" lengthAdjust="spacingAndGlyphs">B</text>
<text x="184.40" y="249.40" font-size="14.4" fill="#000" font-weight="bold" textLength="10.00" lengthAdjust="spacingAndGlyphs">C</text>
<clipPath id="cpB1"><rect x="215.3" y="54.4" width="67.89999999999998" height="63.00000000000001"/></clipPath>
<rect x="215.3" y="54.4" width="67.89999999999998" height="63.00000000000001" fill="#fff" stroke="#a0a0a0" stroke-width="0.9"/>
<g clip-path="url(#cpB1)">
<g filter="url(#sh)">
<ellipse cx="229" cy="102" rx="11" ry="12" fill="#000" opacity="1"/>
<ellipse cx="245" cy="102.6" rx="15" ry="8.6" fill="#000" opacity="1"/>
<ellipse cx="255.5" cy="103" rx="7.5" ry="8.3" fill="#000" opacity="1"/>
<ellipse cx="251" cy="80" rx="7" ry="8.5" fill="#000" opacity="1"/>
<ellipse cx="251.3" cy="87" rx="5.5" ry="8.5" fill="#000" opacity="1"/>
<ellipse cx="238" cy="88" rx="10" ry="10" fill="#000" opacity="0.75"/>
<ellipse cx="233" cy="80" rx="6" ry="8" fill="#000" opacity="0.45"/>
</g>
<path d="M216.5 80.5h.8v.8h-.8zM216.5 91h.8v.8h-.8zM217 70.5h.8v.8h-.8zM217 106.5h.8v.8h-.8zM218 79h.8v.8h-.8zM218.5 72.5h.8v.8h-.8zM219.5 79h.8v.8h-.8zM220 79h.8v.8h-.8zM220 89h.8v.8h-.8zM220 90.5h.8v.8h-.8zM220 101h.8v.8h-.8zM220.5 89h.8v.8h-.8zM220.5 100h.8v.8h-.8zM221.5 71.5h.8v.8h-.8zM221.5 96.5h.8v.8h-.8zM222.5 90.5h.8v.8h-.8zM223 76h.8v.8h-.8zM223 82.5h.8v.8h-.8zM223.5 64h.8v.8h-.8zM224 69.5h.8v.8h-.8zM224 71.5h.8v.8h-.8zM224.5 96h.8v.8h-.8zM225 72h.8v.8h-.8zM225 98.5h.8v.8h-.8zM225.5 72h.8v.8h-.8zM225.5 75h.8v.8h-.8zM225.5 86.5h.8v.8h-.8zM225.5 103.5h.8v.8h-.8zM226 62h.8v.8h-.8zM226 68.5h.8v.8h-.8zM226 69h.8v.8h-.8zM226 71h.8v.8h-.8zM226 77.5h.8v.8h-.8zM226 84h.8v.8h-.8zM226 88h.8v.8h-.8zM226.5 84.5h.8v.8h-.8zM226.5 87.5h.8v.8h-.8zM226.5 97h.8v.8h-.8zM227 60h.8v.8h-.8zM227 67h.8v.8h-.8zM227 78.5h.8v.8h-.8zM227 96h.8v.8h-.8zM227 100h.8v.8h-.8zM227 101.5h.8v.8h-.8zM227.5 77.5h.8v.8h-.8zM227.5 93.5h.8v.8h-.8zM227.5 104.5h.8v.8h-.8zM228 71.5h.8v.8h-.8zM228 76.5h.8v.8h-.8zM228 83h.8v.8h-.8zM228 85h.8v.8h-.8zM228.5 64h.8v.8h-.8zM228.5 70h.8v.8h-.8zM228.5 74h.8v.8h-.8zM228.5 77h.8v.8h-.8zM228.5 80.5h.8v.8h-.8zM228.5 81h.8v.8h-.8zM228.5 88.5h.8v.8h-.8zM228.5 90h.8v.8h-.8zM228.5 90.5h.8v.8h-.8zM229 74.5h.8v.8h-.8zM229 79h.8v.8h-.8zM229 80h.8v.8h-.8zM229 82.5h.8v.8h-.8zM229 84.5h.8v.8h-.8zM229.5 62h.8v.8h-.8zM229.5 68.5h.8v.8h-.8zM229.5 77h.8v.8h-.8zM229.5 81h.8v.8h-.8zM229.5 108h.8v.8h-.8zM230 64h.8v.8h-.8zM230 76h.8v.8h-.8zM230 78h.8v.8h-.8zM230 79.5h.8v.8h-.8zM230 80h.8v.8h-.8zM230 84.5h.8v.8h-.8zM230 94h.8v.8h-.8zM230.5 61h.8v.8h-.8zM230.5 64.5h.8v.8h-.8zM230.5 72h.8v.8h-.8zM230.5 74h.8v.8h-.8zM230.5 85.5h.8v.8h-.8zM230.5 86.5h.8v.8h-.8zM230.5 96h.8v.8h-.8zM230.5 106h.8v.8h-.8zM231 69.5h.8v.8h-.8zM231 74h.8v.8h-.8zM231 81h.8v.8h-.8zM231 100.5h.8v.8h-.8zM231.5 73.5h.8v.8h-.8zM231.5 83.5h.8v.8h-.8zM231.5 85.5h.8v.8h-.8zM231.5 91h.8v.8h-.8zM231.5 95h.8v.8h-.8zM231.5 99h.8v.8h-.8zM232 64.5h.8v.8h-.8zM232 66.5h.8v.8h-.8zM232 71.5h.8v.8h-.8zM232 73h.8v.8h-.8zM232 73.5h.8v.8h-.8zM232 77h.8v.8h-.8zM232.5 62.5h.8v.8h-.8zM232.5 66.5h.8v.8h-.8zM232.5 72h.8v.8h-.8zM232.5 76.5h.8v.8h-.8zM232.5 77h.8v.8h-.8zM232.5 82h.8v.8h-.8zM232.5 82.5h.8v.8h-.8zM232.5 84.5h.8v.8h-.8zM232.5 85.5h.8v.8h-.8zM232.5 87h.8v.8h-.8zM232.5 95h.8v.8h-.8zM232.5 97.5h.8v.8h-.8zM232.5 99.5h.8v.8h-.8zM233 63.5h.8v.8h-.8zM233 70.5h.8v.8h-.8zM233 71h.8v.8h-.8zM233 72h.8v.8h-.8zM233 73h.8v.8h-.8zM233 83h.8v.8h-.8zM233 89.5h.8v.8h-.8zM233.5 72.5h.8v.8h-.8zM233.5 73h.8v.8h-.8zM233.5 74h.8v.8h-.8zM233.5 77.5h.8v.8h-.8zM233.5 78h.8v.8h-.8zM233.5 79h.8v.8h-.8zM233.5 79.5h.8v.8h-.8zM233.5 82h.8v.8h-.8zM233.5 88.5h.8v.8h-.8zM233.5 89h.8v.8h-.8zM233.5 92h.8v.8h-.8zM234 64h.8v.8h-.8zM234 65h.8v.8h-.8zM234 73.5h.8v.8h-.8zM234 78.5h.8v.8h-.8zM234 82.5h.8v.8h-.8zM234 88.5h.8v.8h-.8zM234 91.5h.8v.8h-.8zM234 94h.8v.8h-.8zM234.5 59.5h.8v.8h-.8zM234.5 64h.8v.8h-.8zM234.5 77h.8v.8h-.8zM234.5 82h.8v.8h-.8zM234.5 85h.8v.8h-.8zM234.5 90h.8v.8h-.8zM234.5 95.5h.8v.8h-.8zM234.5 105.5h.8v.8h-.8zM235 59.5h.8v.8h-.8zM235 66.5h.8v.8h-.8zM235 68h.8v.8h-.8zM235 74h.8v.8h-.8zM235 86h.8v.8h-.8zM235 89.5h.8v.8h-.8zM235 91h.8v.8h-.8zM235 98h.8v.8h-.8zM235.5 65.5h.8v.8h-.8zM235.5 69.5h.8v.8h-.8zM235.5 75.5h.8v.8h-.8zM235.5 80h.8v.8h-.8zM235.5 80.5h.8v.8h-.8zM235.5 81.5h.8v.8h-.8zM235.5 89h.8v.8h-.8zM236 64.5h.8v.8h-.8zM236 73h.8v.8h-.8zM236 76.5h.8v.8h-.8zM236 77h.8v.8h-.8zM236 79h.8v.8h-.8zM236 88.5h.8v.8h-.8zM236 89.5h.8v.8h-.8zM236 94h.8v.8h-.8zM236 98.5h.8v.8h-.8zM236.5 63h.8v.8h-.8zM236.5 73h.8v.8h-.8zM236.5 74h.8v.8h-.8zM236.5 75h.8v.8h-.8zM236.5 81.5h.8v.8h-.8zM236.5 90.5h.8v.8h-.8zM236.5 97.5h.8v.8h-.8zM236.5 101h.8v.8h-.8zM236.5 105.5h.8v.8h-.8zM237 69.5h.8v.8h-.8zM237 78.5h.8v.8h-.8zM237 81h.8v.8h-.8zM237 85h.8v.8h-.8zM237 96.5h.8v.8h-.8zM237 110h.8v.8h-.8zM237.5 65h.8v.8h-.8zM237.5 69.5h.8v.8h-.8zM237.5 82h.8v.8h-.8zM237.5 86.5h.8v.8h-.8zM237.5 90.5h.8v.8h-.8zM237.5 95h.8v.8h-.8zM237.5 102h.8v.8h-.8zM237.5 103h.8v.8h-.8zM238 69h.8v.8h-.8zM238 73h.8v.8h-.8zM238 81h.8v.8h-.8zM238 82.5h.8v.8h-.8zM238 102.5h.8v.8h-.8zM238.5 56h.8v.8h-.8zM238.5 76.5h.8v.8h-.8zM238.5 78h.8v.8h-.8zM238.5 88.5h.8v.8h-.8zM238.5 93h.8v.8h-.8zM239 62.5h.8v.8h-.8zM239 63.5h.8v.8h-.8zM239 65h.8v.8h-.8zM239 78.5h.8v.8h-.8zM239 94.5h.8v.8h-.8zM239 101h.8v.8h-.8zM239.5 64.5h.8v.8h-.8zM239.5 73.5h.8v.8h-.8zM239.5 82h.8v.8h-.8zM239.5 90h.8v.8h-.8zM239.5 90.5h.8v.8h-.8zM239.5 100h.8v.8h-.8zM239.5 114.5h.8v.8h-.8zM240 71h.8v.8h-.8zM240 87h.8v.8h-.8zM240 91h.8v.8h-.8zM240 92h.8v.8h-.8zM240 93.5h.8v.8h-.8zM240 103.5h.8v.8h-.8zM240 105h.8v.8h-.8zM240.5 63h.8v.8h-.8zM240.5 85h.8v.8h-.8zM240.5 92.5h.8v.8h-.8zM241 75h.8v.8h-.8zM241 88.5h.8v.8h-.8zM241 100.5h.8v.8h-.8zM241 104.5h.8v.8h-.8zM241 105h.8v.8h-.8zM241.5 84.5h.8v.8h-.8zM241.5 86.5h.8v.8h-.8zM241.5 90.5h.8v.8h-.8zM241.5 93h.8v.8h-.8zM241.5 101.5h.8v.8h-.8zM242 66h.8v.8h-.8zM242 78.5h.8v.8h-.8zM242 81.5h.8v.8h-.8zM242 88h.8v.8h-.8zM242 88.5h.8v.8h-.8zM242 89h.8v.8h-.8zM242 96h.8v.8h-.8zM242.5 71h.8v.8h-.8zM242.5 81.5h.8v.8h-.8zM242.5 89h.8v.8h-.8zM242.5 91h.8v.8h-.8zM243 58h.8v.8h-.8zM243 78h.8v.8h-.8zM243 101.5h.8v.8h-.8zM243.5 73h.8v.8h-.8zM243.5 77h.8v.8h-.8zM243.5 90h.8v.8h-.8zM243.5 102h.8v.8h-.8zM244 68h.8v.8h-.8zM244 69h.8v.8h-.8zM244 71.5h.8v.8h-.8zM244 76.5h.8v.8h-.8zM244 81h.8v.8h-.8zM244 84.5h.8v.8h-.8zM244 90.5h.8v.8h-.8zM244 96h.8v.8h-.8zM244.5 83h.8v.8h-.8zM244.5 91h.8v.8h-.8zM244.5 95.5h.8v.8h-.8zM245 80.5h.8v.8h-.8zM245 87h.8v.8h-.8zM245 91.5h.8v.8h-.8zM245.5 64.5h.8v.8h-.8zM245.5 73.5h.8v.8h-.8zM245.5 74h.8v.8h-.8zM245.5 81h.8v.8h-.8zM245.5 89h.8v.8h-.8zM245.5 93.5h.8v.8h-.8zM245.5 97h.8v.8h-.8zM245.5 113h.8v.8h-.8zM246 78h.8v.8h-.8zM246 82h.8v.8h-.8zM246 89h.8v.8h-.8zM246.5 78.5h.8v.8h-.8zM246.5 89h.8v.8h-.8zM246.5 95h.8v.8h-.8zM247 73h.8v.8h-.8zM247 80.5h.8v.8h-.8zM247 81h.8v.8h-.8zM247 84h.8v.8h-.8zM247 85.5h.8v.8h-.8zM247 88.5h.8v.8h-.8zM247.5 85h.8v.8h-.8zM247.5 95h.8v.8h-.8zM247.5 107.5h.8v.8h-.8zM248 82h.8v.8h-.8zM248 85.5h.8v.8h-.8zM248 90h.8v.8h-.8zM248 93.5h.8v.8h-.8zM248 99h.8v.8h-.8zM248.5 71.5h.8v.8h-.8zM248.5 86h.8v.8h-.8zM248.5 86.5h.8v.8h-.8zM248.5 91.5h.8v.8h-.8zM248.5 93.5h.8v.8h-.8zM248.5 101.5h.8v.8h-.8zM249 97.5h.8v.8h-.8zM249 98h.8v.8h-.8zM249.5 90h.8v.8h-.8zM249.5 95.5h.8v.8h-.8zM250 89h.8v.8h-.8zM250 95h.8v.8h-.8zM250 102.5h.8v.8h-.8zM250 104h.8v.8h-.8zM250.5 77.5h.8v.8h-.8zM251 86.5h.8v.8h-.8zM251 93h.8v.8h-.8zM251 100.5h.8v.8h-.8zM251 103h.8v.8h-.8zM251.5 77.5h.8v.8h-.8zM251.5 88.5h.8v.8h-.8zM251.5 96.5h.8v.8h-.8zM252 82.5h.8v.8h-.8zM252 85.5h.8v.8h-.8zM252.5 89.5h.8v.8h-.8zM252.5 101h.8v.8h-.8zM253 88.5h.8v.8h-.8zM253 89h.8v.8h-.8zM253.5 89h.8v.8h-.8zM253.5 99.5h.8v.8h-.8zM254 73.5h.8v.8h-.8zM254 97.5h.8v.8h-.8zM254.5 62.5h.8v.8h-.8zM254.5 76h.8v.8h-.8zM254.5 93h.8v.8h-.8zM254.5 100h.8v.8h-.8zM255 87h.8v.8h-.8zM255 88h.8v.8h-.8zM255 88.5h.8v.8h-.8zM255 96h.8v.8h-.8zM255.5 106.5h.8v.8h-.8zM256 75h.8v.8h-.8zM256 81h.8v.8h-.8zM256 87h.8v.8h-.8zM256.5 82.5h.8v.8h-.8zM257 100.5h.8v.8h-.8zM258.5 102.5h.8v.8h-.8zM258.5 104h.8v.8h-.8zM259 83h.8v.8h-.8zM259.5 84h.8v.8h-.8zM260 97.5h.8v.8h-.8zM261 86.5h.8v.8h-.8zM261 102h.8v.8h-.8zM262.5 79h.8v.8h-.8zM264 75h.8v.8h-.8zM265 93.5h.8v.8h-.8zM266 98h.8v.8h-.8zM267 77.5h.8v.8h-.8zM267.5 113h.8v.8h-.8zM268.5 61.5h.8v.8h-.8zM269 107h.8v.8h-.8zM272.5 96.5h.8v.8h-.8zM280.5 99h.8v.8h-.8z" fill="#111" opacity="0.85"/>
<g filter="url(#jet)">
<ellipse cx="229.3" cy="103.3" rx="9.3" ry="10.5" fill="url(#lobe)" opacity="1"/>
<ellipse cx="227.3" cy="103.6" rx="2.8" ry="3.0" fill="url(#flat)" opacity="0.97"/>
<ellipse cx="232.4" cy="104" rx="2.3" ry="2.5" fill="url(#flat)" opacity="0.85"/>
<ellipse cx="245" cy="103.8" rx="13.5" ry="7" fill="url(#flat)" opacity="0.3"/>
<ellipse cx="255.8" cy="104" rx="6" ry="7" fill="url(#cone)" opacity="0.5"/>
<ellipse cx="251" cy="80" rx="5.5" ry="6.5" fill="url(#cone)" opacity="0.3"/>
<ellipse cx="251.3" cy="86.5" rx="3.8" ry="7" fill="url(#cone)" opacity="0.25"/>
</g>
</g>
<rect x="241.9" y="71.9" width="19.200000000000017" height="22.799999999999997" fill="none" stroke="#777" stroke-width="0.9"/>
<line x1="215.3" y1="54.4" x2="215.3" y2="117.4" stroke="#555" stroke-width="0.9"/>
<line x1="215.3" y1="117.4" x2="283.2" y2="117.4" stroke="#555" stroke-width="0.9"/>
<line x1="213.3" y1="59.4" x2="215.3" y2="59.4" stroke="#555" stroke-width="0.7"/>
<line x1="213.3" y1="70.2" x2="215.3" y2="70.2" stroke="#555" stroke-width="0.7"/>
<line x1="213.3" y1="80.9" x2="215.3" y2="80.9" stroke="#555" stroke-width="0.7"/>
<line x1="213.3" y1="92.2" x2="215.3" y2="92.2" stroke="#555" stroke-width="0.7"/>
<line x1="213.3" y1="102.9" x2="215.3" y2="102.9" stroke="#555" stroke-width="0.7"/>
<rect x="213.3" y="103.5" width="1.8" height="3" fill="#333"/>
<line x1="223.4" y1="117.4" x2="223.4" y2="119.4" stroke="#555" stroke-width="0.7"/>
<line x1="235.7" y1="117.4" x2="235.7" y2="119.4" stroke="#555" stroke-width="0.7"/>
<line x1="250.6" y1="117.4" x2="250.6" y2="119.4" stroke="#555" stroke-width="0.7"/>
<line x1="262.8" y1="117.4" x2="262.8" y2="119.4" stroke="#555" stroke-width="0.7"/>
<line x1="275.1" y1="117.4" x2="275.1" y2="119.4" stroke="#555" stroke-width="0.7"/>
<rect x="228.9" y="117.7" width="3" height="1.8" fill="#333"/>
<line x1="221.3" y1="118.5" x2="277.2" y2="118.5" stroke="#777" stroke-width="1.4" stroke-dasharray="0.6 1.7"/>
<line x1="214.20000000000002" y1="59.4" x2="214.20000000000002" y2="113.4" stroke="#888" stroke-width="1.2" stroke-dasharray="0.6 2.6"/>
<text x="251.20" y="70.20" font-size="11.4" fill="#1f44ff" stroke="#1f44ff" stroke-width="0.3" text-anchor="middle" textLength="7.20" lengthAdjust="spacingAndGlyphs">2</text>
<clipPath id="cpB2"><rect x="285.3" y="54.4" width="67.89999999999998" height="63.00000000000001"/></clipPath>
<rect x="285.3" y="54.4" width="67.89999999999998" height="63.00000000000001" fill="#fff" stroke="#a0a0a0" stroke-width="0.9"/>
<g clip-path="url(#cpB2)">
<g filter="url(#sh)">
<ellipse cx="312" cy="99.5" rx="25.5" ry="14.5" fill="#000" opacity="1"/>
<ellipse cx="322" cy="84" rx="9" ry="13.5" fill="#000" opacity="1"/>
<ellipse cx="306" cy="87" rx="11" ry="11" fill="#000" opacity="1"/>
<ellipse cx="300" cy="77" rx="6" ry="7" fill="#000" opacity="0.6"/>
</g>
<path d="M287 70h.8v.8h-.8zM288 85.5h.8v.8h-.8zM288.5 81.5h.8v.8h-.8zM289 56.5h.8v.8h-.8zM289 80h.8v.8h-.8zM290 75h.8v.8h-.8zM290.5 74.5h.8v.8h-.8zM291 61h.8v.8h-.8zM291 68.5h.8v.8h-.8zM291 81.5h.8v.8h-.8zM291.5 62.5h.8v.8h-.8zM291.5 70h.8v.8h-.8zM291.5 72h.8v.8h-.8zM292 68.5h.8v.8h-.8zM292 69h.8v.8h-.8zM292 73h.8v.8h-.8zM292.5 64h.8v.8h-.8zM292.5 73.5h.8v.8h-.8zM292.5 74h.8v.8h-.8zM293 74.5h.8v.8h-.8zM293.5 60h.8v.8h-.8zM293.5 73h.8v.8h-.8zM293.5 87h.8v.8h-.8zM294 66.5h.8v.8h-.8zM294 71.5h.8v.8h-.8zM294 75h.8v.8h-.8zM294.5 62.5h.8v.8h-.8zM294.5 65.5h.8v.8h-.8zM294.5 70.5h.8v.8h-.8zM295 60.5h.8v.8h-.8zM295 71h.8v.8h-.8zM295 72h.8v.8h-.8zM295 76h.8v.8h-.8zM295.5 66.5h.8v.8h-.8zM296 69.5h.8v.8h-.8zM296.5 68h.8v.8h-.8zM296.5 79.5h.8v.8h-.8zM297 64.5h.8v.8h-.8zM297 65h.8v.8h-.8zM297 65.5h.8v.8h-.8zM297 72h.8v.8h-.8zM298 66h.8v.8h-.8zM298 67h.8v.8h-.8zM298 68h.8v.8h-.8zM298 69h.8v.8h-.8zM298 74.5h.8v.8h-.8zM298.5 62h.8v.8h-.8zM298.5 65h.8v.8h-.8zM298.5 66h.8v.8h-.8zM298.5 71.5h.8v.8h-.8zM298.5 73.5h.8v.8h-.8zM298.5 75h.8v.8h-.8zM299 65h.8v.8h-.8zM299 86.5h.8v.8h-.8zM299.5 68.5h.8v.8h-.8zM300 63h.8v.8h-.8zM300 67.5h.8v.8h-.8zM300 71.5h.8v.8h-.8zM300 79.5h.8v.8h-.8zM300.5 59h.8v.8h-.8zM300.5 75h.8v.8h-.8zM301 57.5h.8v.8h-.8zM301 58.5h.8v.8h-.8zM301 76h.8v.8h-.8zM301 77.5h.8v.8h-.8zM301.5 64.5h.8v.8h-.8zM301.5 66h.8v.8h-.8zM301.5 67h.8v.8h-.8zM301.5 70.5h.8v.8h-.8zM301.5 72h.8v.8h-.8zM301.5 73h.8v.8h-.8zM302 63.5h.8v.8h-.8zM302 70h.8v.8h-.8zM302 84h.8v.8h-.8zM302.5 67.5h.8v.8h-.8zM302.5 71h.8v.8h-.8zM302.5 72.5h.8v.8h-.8zM302.5 79h.8v.8h-.8zM303 66h.8v.8h-.8zM303 71h.8v.8h-.8zM303 78.5h.8v.8h-.8zM303.5 72.5h.8v.8h-.8zM303.5 84h.8v.8h-.8zM303.5 85h.8v.8h-.8zM304 67.5h.8v.8h-.8zM304 69h.8v.8h-.8zM304 69.5h.8v.8h-.8zM304 71h.8v.8h-.8zM304.5 67h.8v.8h-.8zM304.5 76h.8v.8h-.8zM304.5 80h.8v.8h-.8zM305 60h.8v.8h-.8zM305 67h.8v.8h-.8zM305 68.5h.8v.8h-.8zM305 72.5h.8v.8h-.8zM305 73.5h.8v.8h-.8zM305 74h.8v.8h-.8zM305 79h.8v.8h-.8zM305.5 61h.8v.8h-.8zM305.5 70.5h.8v.8h-.8zM306 60h.8v.8h-.8zM306 74.5h.8v.8h-.8zM306.5 65.5h.8v.8h-.8zM306.5 69.5h.8v.8h-.8zM306.5 71.5h.8v.8h-.8zM306.5 75.5h.8v.8h-.8zM307 61.5h.8v.8h-.8zM307.5 71h.8v.8h-.8zM307.5 71.5h.8v.8h-.8zM308 65.5h.8v.8h-.8zM308 75.5h.8v.8h-.8zM308.5 67.5h.8v.8h-.8zM309 71h.8v.8h-.8zM309.5 63h.8v.8h-.8zM310 62.5h.8v.8h-.8zM310.5 67h.8v.8h-.8zM310.5 71.5h.8v.8h-.8zM310.5 75.5h.8v.8h-.8zM311 66.5h.8v.8h-.8zM311 67.5h.8v.8h-.8zM311 72h.8v.8h-.8zM312 64.5h.8v.8h-.8zM312 66.5h.8v.8h-.8zM312 76.5h.8v.8h-.8zM315 78.5h.8v.8h-.8zM315.5 58h.8v.8h-.8zM316.5 57h.8v.8h-.8zM316.5 65.5h.8v.8h-.8zM318 80.5h.8v.8h-.8zM320.5 61h.8v.8h-.8zM324 65h.8v.8h-.8zM325.5 108.5h.8v.8h-.8zM332 80h.8v.8h-.8zM332.5 84.5h.8v.8h-.8zM332.5 111.5h.8v.8h-.8zM333 71.5h.8v.8h-.8zM335 95.5h.8v.8h-.8zM344.5 83.5h.8v.8h-.8zM349 76h.8v.8h-.8zM351 102.5h.8v.8h-.8z" fill="#111" opacity="0.85"/>
<g filter="url(#jet)">
<ellipse cx="299.3" cy="102.6" rx="9.6" ry="11.4" fill="url(#lobe)" opacity="1"/>
<ellipse cx="299.5" cy="95.5" rx="7" ry="4.5" fill="url(#flat)" opacity="0.22"/>
<ellipse cx="297.3" cy="103.6" rx="2.8" ry="3.0" fill="url(#flat)" opacity="0.97"/>
<ellipse cx="302.4" cy="104" rx="2.3" ry="2.5" fill="url(#flat)" opacity="0.85"/>
<ellipse cx="315" cy="103.8" rx="13.5" ry="7.3" fill="url(#flat)" opacity="0.3"/>
<ellipse cx="326.5" cy="104" rx="6.2" ry="7.2" fill="url(#cone)" opacity="0.5"/>
<ellipse cx="322" cy="80.5" rx="5.8" ry="7.5" fill="url(#cone)" opacity="0.32"/>
<ellipse cx="322.5" cy="88" rx="4" ry="7.5" fill="url(#cone)" opacity="0.25"/>
</g>
</g>
<rect x="314.5" y="71.9" width="18.899999999999977" height="21.89999999999999" fill="none" stroke="#777" stroke-width="0.9"/>
<line x1="285.3" y1="54.4" x2="285.3" y2="117.4" stroke="#555" stroke-width="0.9"/>
<line x1="285.3" y1="117.4" x2="353.2" y2="117.4" stroke="#555" stroke-width="0.9"/>
<line x1="283.3" y1="59.4" x2="285.3" y2="59.4" stroke="#555" stroke-width="0.7"/>
<line x1="283.3" y1="70.2" x2="285.3" y2="70.2" stroke="#555" stroke-width="0.7"/>
<line x1="283.3" y1="80.9" x2="285.3" y2="80.9" stroke="#555" stroke-width="0.7"/>
<line x1="283.3" y1="92.2" x2="285.3" y2="92.2" stroke="#555" stroke-width="0.7"/>
<line x1="283.3" y1="102.9" x2="285.3" y2="102.9" stroke="#555" stroke-width="0.7"/>
<rect x="283.3" y="103.5" width="1.8" height="3" fill="#333"/>
<line x1="293.4" y1="117.4" x2="293.4" y2="119.4" stroke="#555" stroke-width="0.7"/>
<line x1="305.7" y1="117.4" x2="305.7" y2="119.4" stroke="#555" stroke-width="0.7"/>
<line x1="320.6" y1="117.4" x2="320.6" y2="119.4" stroke="#555" stroke-width="0.7"/>
<line x1="332.8" y1="117.4" x2="332.8" y2="119.4" stroke="#555" stroke-width="0.7"/>
<line x1="345.1" y1="117.4" x2="345.1" y2="119.4" stroke="#555" stroke-width="0.7"/>
<rect x="298.9" y="117.7" width="3" height="1.8" fill="#333"/>
<line x1="291.3" y1="118.5" x2="347.2" y2="118.5" stroke="#777" stroke-width="1.4" stroke-dasharray="0.6 1.7"/>
<line x1="284.2" y1="59.4" x2="284.2" y2="113.4" stroke="#888" stroke-width="1.2" stroke-dasharray="0.6 2.6"/>
<text x="322.40" y="70.20" font-size="11.4" fill="#1f44ff" stroke="#1f44ff" stroke-width="0.3" text-anchor="middle" textLength="17.40" lengthAdjust="spacingAndGlyphs">3.2</text>
<clipPath id="cpB3"><rect x="215.3" y="137.4" width="67.39999999999998" height="62.599999999999994"/></clipPath>
<rect x="215.3" y="137.4" width="67.39999999999998" height="62.599999999999994" fill="#fff" stroke="#a0a0a0" stroke-width="0.9"/>
<g clip-path="url(#cpB3)">
<g filter="url(#sh)">
<ellipse cx="230.3" cy="185" rx="11.3" ry="12.6" fill="#000" opacity="0.3"/>
<ellipse cx="253.5" cy="186.5" rx="9.5" ry="11.3" fill="#000" opacity="0.25"/>
</g>
<path d="M217.5 194.5h.8v.8h-.8zM219.5 179h.8v.8h-.8zM222 170.5h.8v.8h-.8zM223.5 157.5h.8v.8h-.8zM224 163h.8v.8h-.8zM225 163.5h.8v.8h-.8zM225.5 156.5h.8v.8h-.8zM226 169.5h.8v.8h-.8zM226 172.5h.8v.8h-.8zM226.5 154.5h.8v.8h-.8zM226.5 161.5h.8v.8h-.8zM227 167h.8v.8h-.8zM227 196h.8v.8h-.8zM227.5 169.5h.8v.8h-.8zM228 150.5h.8v.8h-.8zM228 164.5h.8v.8h-.8zM228 181.5h.8v.8h-.8zM228.5 172h.8v.8h-.8zM229 157.5h.8v.8h-.8zM229 172.5h.8v.8h-.8zM229 178h.8v.8h-.8zM229.5 181h.8v.8h-.8zM229.5 198.5h.8v.8h-.8zM230 161h.8v.8h-.8zM230.5 149.5h.8v.8h-.8zM230.5 167h.8v.8h-.8zM230.5 176.5h.8v.8h-.8zM231 151h.8v.8h-.8zM231 162h.8v.8h-.8zM231 162.5h.8v.8h-.8zM231 185h.8v.8h-.8zM231.5 161.5h.8v.8h-.8zM231.5 163h.8v.8h-.8zM232 159h.8v.8h-.8zM232 160.5h.8v.8h-.8zM232 163h.8v.8h-.8zM232 163.5h.8v.8h-.8zM232 164h.8v.8h-.8zM232 192.5h.8v.8h-.8zM232.5 164.5h.8v.8h-.8zM232.5 166.5h.8v.8h-.8zM232.5 167.5h.8v.8h-.8zM233 170h.8v.8h-.8zM233.5 155.5h.8v.8h-.8zM233.5 171h.8v.8h-.8zM233.5 174h.8v.8h-.8zM234 163.5h.8v.8h-.8zM234 170h.8v.8h-.8zM234.5 163h.8v.8h-.8zM234.5 172h.8v.8h-.8zM234.5 177.5h.8v.8h-.8zM234.5 194h.8v.8h-.8zM235.5 168.5h.8v.8h-.8zM236 157h.8v.8h-.8zM236 158h.8v.8h-.8zM236 195h.8v.8h-.8zM236.5 192.5h.8v.8h-.8zM237 159h.8v.8h-.8zM237 161h.8v.8h-.8zM238 163.5h.8v.8h-.8zM238 181.5h.8v.8h-.8zM238.5 160h.8v.8h-.8zM238.5 162h.8v.8h-.8zM238.5 165h.8v.8h-.8zM239 164h.8v.8h-.8zM239.5 164h.8v.8h-.8zM240 166h.8v.8h-.8zM240 197h.8v.8h-.8zM240.5 171.5h.8v.8h-.8zM240.5 183.5h.8v.8h-.8zM241 191h.8v.8h-.8zM241.5 151h.8v.8h-.8zM242 148h.8v.8h-.8zM242.5 148h.8v.8h-.8zM242.5 166h.8v.8h-.8zM242.5 168.5h.8v.8h-.8zM243.5 151.5h.8v.8h-.8zM243.5 179h.8v.8h-.8zM244 163.5h.8v.8h-.8zM244.5 193.5h.8v.8h-.8zM245 181h.8v.8h-.8zM245 186.5h.8v.8h-.8zM245.5 196h.8v.8h-.8zM247.5 176.5h.8v.8h-.8zM249.5 168h.8v.8h-.8zM251.5 179h.8v.8h-.8zM267.5 155.5h.8v.8h-.8zM268.5 159.5h.8v.8h-.8zM268.5 177h.8v.8h-.8zM275.5 148.5h.8v.8h-.8z" fill="#111" opacity="0.85"/>
<g filter="url(#jet)">
<ellipse cx="230.3" cy="185" rx="10.5" ry="12" fill="url(#lobe)" opacity="1"/>
<ellipse cx="228" cy="184.8" rx="2.4" ry="2.8" fill="url(#flat)" opacity="0.97"/>
<ellipse cx="232.5" cy="186" rx="2" ry="2.2" fill="url(#flat)" opacity="0.8"/>
<ellipse cx="243" cy="187" rx="5.5" ry="4.2" fill="url(#flat)" opacity="0.3"/>
<ellipse cx="253.5" cy="186.5" rx="8.8" ry="10.5" fill="url(#cone)" opacity="0.58"/>
<ellipse cx="252" cy="169" rx="5.5" ry="11" fill="url(#flat)" opacity="0.28"/>
<ellipse cx="252" cy="161" rx="6.2" ry="5.8" fill="url(#flat)" opacity="0.3"/>
<ellipse cx="252" cy="160.5" rx="3" ry="3" fill="url(#cone)" opacity="0.2"/>
</g>
</g>
<rect x="244" y="154.9" width="19.399999999999977" height="22.400000000000006" fill="none" stroke="#777" stroke-width="0.9"/>
<line x1="215.3" y1="137.4" x2="215.3" y2="200" stroke="#555" stroke-width="0.9"/>
<line x1="215.3" y1="200" x2="282.7" y2="200" stroke="#555" stroke-width="0.9"/>
<line x1="213.3" y1="142.4" x2="215.3" y2="142.4" stroke="#555" stroke-width="0.7"/>
<line x1="213.3" y1="153.1" x2="215.3" y2="153.1" stroke="#555" stroke-width="0.7"/>
<line x1="213.3" y1="163.7" x2="215.3" y2="163.7" stroke="#555" stroke-width="0.7"/>
<line x1="213.3" y1="175.0" x2="215.3" y2="175.0" stroke="#555" stroke-width="0.7"/>
<line x1="213.3" y1="185.6" x2="215.3" y2="185.6" stroke="#555" stroke-width="0.7"/>
<rect x="213.3" y="186.2" width="1.8" height="3" fill="#333"/>
<line x1="223.4" y1="200" x2="223.4" y2="202" stroke="#555" stroke-width="0.7"/>
<line x1="235.5" y1="200" x2="235.5" y2="202" stroke="#555" stroke-width="0.7"/>
<line x1="250.3" y1="200" x2="250.3" y2="202" stroke="#555" stroke-width="0.7"/>
<line x1="262.5" y1="200" x2="262.5" y2="202" stroke="#555" stroke-width="0.7"/>
<line x1="274.6" y1="200" x2="274.6" y2="202" stroke="#555" stroke-width="0.7"/>
<rect x="228.8" y="200.3" width="3" height="1.8" fill="#333"/>
<line x1="221.3" y1="201.1" x2="276.7" y2="201.1" stroke="#777" stroke-width="1.4" stroke-dasharray="0.6 1.7"/>
<line x1="214.20000000000002" y1="142.4" x2="214.20000000000002" y2="196" stroke="#888" stroke-width="1.2" stroke-dasharray="0.6 2.6"/>
<text x="253.10" y="152.80" font-size="11.4" fill="#1f44ff" stroke="#1f44ff" stroke-width="0.3" text-anchor="middle" textLength="17.80" lengthAdjust="spacingAndGlyphs">6.2</text>
<clipPath id="cpB4"><rect x="285.3" y="137.4" width="67.39999999999998" height="62.599999999999994"/></clipPath>
<rect x="285.3" y="137.4" width="67.39999999999998" height="62.599999999999994" fill="#fff" stroke="#a0a0a0" stroke-width="0.9"/>
<g clip-path="url(#cpB4)">
<g filter="url(#sh)">
<ellipse cx="303" cy="166" rx="8" ry="10" fill="#000" opacity="0.32" transform="rotate(-20 303 166)"/>
<ellipse cx="309" cy="173" rx="4" ry="6" fill="#000" opacity="0.35"/>
</g>
<path d="M290 166h.8v.8h-.8zM290.5 155.5h.8v.8h-.8zM290.5 159h.8v.8h-.8zM291 172h.8v.8h-.8zM291.5 172.5h.8v.8h-.8zM291.5 175h.8v.8h-.8zM292 168.5h.8v.8h-.8zM293.5 164h.8v.8h-.8zM293.5 169h.8v.8h-.8zM295 154h.8v.8h-.8zM296 156.5h.8v.8h-.8zM296 164.5h.8v.8h-.8zM296.5 172.5h.8v.8h-.8zM297 158.5h.8v.8h-.8zM297 159h.8v.8h-.8zM297 162.5h.8v.8h-.8zM297 172h.8v.8h-.8zM297.5 161h.8v.8h-.8zM297.5 163h.8v.8h-.8zM297.5 164h.8v.8h-.8zM298 154h.8v.8h-.8zM298 156h.8v.8h-.8zM298 158.5h.8v.8h-.8zM298 160h.8v.8h-.8zM298 161.5h.8v.8h-.8zM298 177.5h.8v.8h-.8zM298.5 161.5h.8v.8h-.8zM298.5 172h.8v.8h-.8zM299 163h.8v.8h-.8zM299 176h.8v.8h-.8zM299.5 154.5h.8v.8h-.8zM299.5 165.5h.8v.8h-.8zM299.5 171h.8v.8h-.8zM299.5 175.5h.8v.8h-.8zM300 159h.8v.8h-.8zM300 164.5h.8v.8h-.8zM300 165.5h.8v.8h-.8zM300 171h.8v.8h-.8zM300 172h.8v.8h-.8zM300.5 157.5h.8v.8h-.8zM300.5 163h.8v.8h-.8zM300.5 163.5h.8v.8h-.8zM300.5 168h.8v.8h-.8zM301 161h.8v.8h-.8zM301.5 145.5h.8v.8h-.8zM301.5 149.5h.8v.8h-.8zM301.5 159.5h.8v.8h-.8zM301.5 160h.8v.8h-.8zM301.5 171.5h.8v.8h-.8zM301.5 178.5h.8v.8h-.8zM302 161h.8v.8h-.8zM302 167.5h.8v.8h-.8zM302.5 147h.8v.8h-.8zM302.5 164h.8v.8h-.8zM302.5 166h.8v.8h-.8zM303 162.5h.8v.8h-.8zM303 163.5h.8v.8h-.8zM303 166.5h.8v.8h-.8zM303 168h.8v.8h-.8zM303 177.5h.8v.8h-.8zM303 187.5h.8v.8h-.8zM303.5 158h.8v.8h-.8zM303.5 160.5h.8v.8h-.8zM303.5 161h.8v.8h-.8zM303.5 165.5h.8v.8h-.8zM303.5 169.5h.8v.8h-.8zM303.5 170h.8v.8h-.8zM303.5 171h.8v.8h-.8zM303.5 176.5h.8v.8h-.8zM304 144.5h.8v.8h-.8zM304 153.5h.8v.8h-.8zM304 154.5h.8v.8h-.8zM304 156h.8v.8h-.8zM304 156.5h.8v.8h-.8zM304 157h.8v.8h-.8zM304 158.5h.8v.8h-.8zM304 160.5h.8v.8h-.8zM304 162.5h.8v.8h-.8zM304 163h.8v.8h-.8zM304 165h.8v.8h-.8zM304.5 159h.8v.8h-.8zM304.5 163.5h.8v.8h-.8zM304.5 166h.8v.8h-.8zM304.5 166.5h.8v.8h-.8zM304.5 177h.8v.8h-.8zM305 153.5h.8v.8h-.8zM305 160.5h.8v.8h-.8zM305 161h.8v.8h-.8zM305.5 152h.8v.8h-.8zM305.5 153.5h.8v.8h-.8zM305.5 161h.8v.8h-.8zM305.5 162.5h.8v.8h-.8zM305.5 168h.8v.8h-.8zM306 155h.8v.8h-.8zM306 160h.8v.8h-.8zM306 165h.8v.8h-.8zM306 170h.8v.8h-.8zM306 177h.8v.8h-.8zM306 178.5h.8v.8h-.8zM306.5 151h.8v.8h-.8zM306.5 156h.8v.8h-.8zM306.5 162h.8v.8h-.8zM306.5 164h.8v.8h-.8zM306.5 164.5h.8v.8h-.8zM306.5 168h.8v.8h-.8zM306.5 172h.8v.8h-.8zM306.5 194h.8v.8h-.8zM307 151.5h.8v.8h-.8zM307 153h.8v.8h-.8zM307 163h.8v.8h-.8zM307 165h.8v.8h-.8zM307.5 159h.8v.8h-.8zM307.5 164h.8v.8h-.8zM308 152h.8v.8h-.8zM308 163.5h.8v.8h-.8zM308 176h.8v.8h-.8zM308.5 156h.8v.8h-.8zM308.5 157h.8v.8h-.8zM308.5 157.5h.8v.8h-.8zM308.5 166h.8v.8h-.8zM308.5 169h.8v.8h-.8zM309 162.5h.8v.8h-.8zM309 164.5h.8v.8h-.8zM309 175.5h.8v.8h-.8zM309.5 158h.8v.8h-.8zM309.5 162h.8v.8h-.8zM309.5 165h.8v.8h-.8zM309.5 169.5h.8v.8h-.8zM309.5 170h.8v.8h-.8zM310 157h.8v.8h-.8zM310 159h.8v.8h-.8zM310 162.5h.8v.8h-.8zM311 155.5h.8v.8h-.8zM311 166h.8v.8h-.8zM311.5 154h.8v.8h-.8zM311.5 161h.8v.8h-.8zM311.5 162h.8v.8h-.8zM312 166h.8v.8h-.8zM312.5 157h.8v.8h-.8zM312.5 163h.8v.8h-.8zM313 160.5h.8v.8h-.8zM313 174.5h.8v.8h-.8zM313.5 159h.8v.8h-.8zM314 153.5h.8v.8h-.8zM314 157.5h.8v.8h-.8zM314.5 164h.8v.8h-.8zM315 152.5h.8v.8h-.8zM318 160h.8v.8h-.8zM326.5 188h.8v.8h-.8zM330 183h.8v.8h-.8zM339 156h.8v.8h-.8zM344 180.5h.8v.8h-.8zM350.5 192h.8v.8h-.8z" fill="#111" opacity="0.85"/>
<g filter="url(#jet)">
<ellipse cx="297.5" cy="184.5" rx="9.8" ry="12" fill="url(#lobe)" opacity="1"/>
<ellipse cx="297.4" cy="186.6" rx="2.4" ry="2.8" fill="url(#flat)" opacity="0.97"/>
<ellipse cx="301.7" cy="186.6" rx="2" ry="2.2" fill="url(#flat)" opacity="0.75"/>
<ellipse cx="311" cy="187" rx="10" ry="7.5" fill="url(#flat)" opacity="0.3"/>
<ellipse cx="323.5" cy="186.5" rx="7.5" ry="8.5" fill="url(#cone)" opacity="0.5"/>
<ellipse cx="320.5" cy="167.5" rx="10.5" ry="11.5" fill="url(#flat)" opacity="0.25"/>
<ellipse cx="323" cy="164" rx="6" ry="6" fill="url(#cone)" opacity="0.15"/>
<ellipse cx="320" cy="178" rx="9" ry="6" fill="url(#flat)" opacity="0.3"/>
</g>
</g>
<rect x="311.2" y="154.9" width="19.100000000000023" height="22.400000000000006" fill="none" stroke="#777" stroke-width="0.9"/>
<line x1="285.3" y1="137.4" x2="285.3" y2="200" stroke="#555" stroke-width="0.9"/>
<line x1="285.3" y1="200" x2="352.7" y2="200" stroke="#555" stroke-width="0.9"/>
<line x1="283.3" y1="142.4" x2="285.3" y2="142.4" stroke="#555" stroke-width="0.7"/>
<line x1="283.3" y1="153.1" x2="285.3" y2="153.1" stroke="#555" stroke-width="0.7"/>
<line x1="283.3" y1="163.7" x2="285.3" y2="163.7" stroke="#555" stroke-width="0.7"/>
<line x1="283.3" y1="175.0" x2="285.3" y2="175.0" stroke="#555" stroke-width="0.7"/>
<line x1="283.3" y1="185.6" x2="285.3" y2="185.6" stroke="#555" stroke-width="0.7"/>
<rect x="283.3" y="186.2" width="1.8" height="3" fill="#333"/>
<line x1="293.4" y1="200" x2="293.4" y2="202" stroke="#555" stroke-width="0.7"/>
<line x1="305.5" y1="200" x2="305.5" y2="202" stroke="#555" stroke-width="0.7"/>
<line x1="320.3" y1="200" x2="320.3" y2="202" stroke="#555" stroke-width="0.7"/>
<line x1="332.5" y1="200" x2="332.5" y2="202" stroke="#555" stroke-width="0.7"/>
<line x1="344.6" y1="200" x2="344.6" y2="202" stroke="#555" stroke-width="0.7"/>
<rect x="298.8" y="200.3" width="3" height="1.8" fill="#333"/>
<line x1="291.3" y1="201.1" x2="346.7" y2="201.1" stroke="#777" stroke-width="1.4" stroke-dasharray="0.6 1.7"/>
<line x1="284.2" y1="142.4" x2="284.2" y2="196" stroke="#888" stroke-width="1.2" stroke-dasharray="0.6 2.6"/>
<text x="319.40" y="153.00" font-size="11.4" fill="#1f44ff" stroke="#1f44ff" stroke-width="0.3" text-anchor="middle" textLength="17.00" lengthAdjust="spacingAndGlyphs">5.5</text>
<clipPath id="cpC1"><rect x="213.4" y="282.4" width="65.99999999999997" height="62.30000000000001"/></clipPath>
<rect x="213.4" y="282.4" width="65.99999999999997" height="62.30000000000001" fill="#fff" stroke="#a0a0a0" stroke-width="0.9"/>
<g clip-path="url(#cpC1)">
<path d="M217.5 300.5h.8v.8h-.8zM217.5 313h.8v.8h-.8zM218.5 321h.8v.8h-.8zM219 338h.8v.8h-.8zM219.5 293.5h.8v.8h-.8zM220 313.5h.8v.8h-.8zM221 320h.8v.8h-.8zM222 305h.8v.8h-.8zM222.5 320h.8v.8h-.8zM223 307.5h.8v.8h-.8zM223.5 311.5h.8v.8h-.8zM224.5 308.5h.8v.8h-.8zM225.5 297.5h.8v.8h-.8zM226 335h.8v.8h-.8zM227 307h.8v.8h-.8zM227.5 325.5h.8v.8h-.8zM228.5 307h.8v.8h-.8zM229 298.5h.8v.8h-.8zM229.5 332.5h.8v.8h-.8zM230 308h.8v.8h-.8zM230 332h.8v.8h-.8zM230 335.5h.8v.8h-.8zM230 338h.8v.8h-.8zM230.5 320h.8v.8h-.8zM230.5 329h.8v.8h-.8zM232 305.5h.8v.8h-.8zM232.5 299h.8v.8h-.8zM233 320.5h.8v.8h-.8zM234 303h.8v.8h-.8zM234.5 317.5h.8v.8h-.8zM235.5 318h.8v.8h-.8zM235.5 331.5h.8v.8h-.8zM236 323.5h.8v.8h-.8zM236 327h.8v.8h-.8zM237 324h.8v.8h-.8zM237.5 321h.8v.8h-.8zM238 308h.8v.8h-.8zM238.5 312.5h.8v.8h-.8zM239 341.5h.8v.8h-.8zM240 299h.8v.8h-.8zM240 318.5h.8v.8h-.8zM240.5 324.5h.8v.8h-.8zM243.5 309h.8v.8h-.8zM244 326h.8v.8h-.8zM245.5 335.5h.8v.8h-.8zM246 318.5h.8v.8h-.8zM247.5 324.5h.8v.8h-.8zM249.5 326h.8v.8h-.8zM252 321.5h.8v.8h-.8zM252 324h.8v.8h-.8zM252 332.5h.8v.8h-.8zM253.5 313h.8v.8h-.8z" fill="#111" opacity="0.85"/>
<g filter="url(#jet)">
<ellipse cx="234.5" cy="325" rx="11.5" ry="13" fill="url(#flat)" opacity="0.25"/>
<ellipse cx="237" cy="324.8" rx="9.3" ry="12" fill="url(#lobe)" opacity="0.85"/>
<ellipse cx="227" cy="319" rx="7.2" ry="6.8" fill="url(#flat)" opacity="0.3" transform="rotate(-10 227 319)"/>
<ellipse cx="236.8" cy="335.5" rx="3" ry="4.5" fill="url(#flat)" opacity="0.3"/>
<ellipse cx="236.9" cy="322.9" rx="2.4" ry="2.2" fill="url(#flat)" opacity="0.85"/>
</g>
</g>
<polygon points="215.2,299.2 234.4,299.2 234.4,317.5 221.8,327.3 215.2,327.3" fill="none" stroke="#555" stroke-width="0.9"/>
<line x1="213.4" y1="282.4" x2="213.4" y2="344.7" stroke="#555" stroke-width="0.9"/>
<line x1="213.4" y1="344.7" x2="279.4" y2="344.7" stroke="#555" stroke-width="0.9"/>
<line x1="211.4" y1="287.4" x2="213.4" y2="287.4" stroke="#555" stroke-width="0.7"/>
<line x1="211.4" y1="298.0" x2="213.4" y2="298.0" stroke="#555" stroke-width="0.7"/>
<line x1="211.4" y1="308.6" x2="213.4" y2="308.6" stroke="#555" stroke-width="0.7"/>
<line x1="211.4" y1="319.8" x2="213.4" y2="319.8" stroke="#555" stroke-width="0.7"/>
<line x1="211.4" y1="330.4" x2="213.4" y2="330.4" stroke="#555" stroke-width="0.7"/>
<rect x="211.4" y="331.0" width="1.8" height="3" fill="#333"/>
<line x1="221.3" y1="344.7" x2="221.3" y2="346.7" stroke="#555" stroke-width="0.7"/>
<line x1="233.2" y1="344.7" x2="233.2" y2="346.7" stroke="#555" stroke-width="0.7"/>
<line x1="247.7" y1="344.7" x2="247.7" y2="346.7" stroke="#555" stroke-width="0.7"/>
<line x1="259.6" y1="344.7" x2="259.6" y2="346.7" stroke="#555" stroke-width="0.7"/>
<line x1="271.5" y1="344.7" x2="271.5" y2="346.7" stroke="#555" stroke-width="0.7"/>
<rect x="226.6" y="345.0" width="3" height="1.8" fill="#333"/>
<line x1="219.4" y1="345.8" x2="273.4" y2="345.8" stroke="#777" stroke-width="1.4" stroke-dasharray="0.6 1.7"/>
<line x1="212.3" y1="287.4" x2="212.3" y2="340.7" stroke="#888" stroke-width="1.2" stroke-dasharray="0.6 2.6"/>
<text x="223.80" y="296.90" font-size="11.4" fill="#1f44ff" stroke="#1f44ff" stroke-width="0.3" text-anchor="middle" textLength="17.20" lengthAdjust="spacingAndGlyphs">7.2</text>
<clipPath id="cpC2"><rect x="282.4" y="282.4" width="68.30000000000001" height="62.60000000000002"/></clipPath>
<rect x="282.4" y="282.4" width="68.30000000000001" height="62.60000000000002" fill="#fff" stroke="#a0a0a0" stroke-width="0.9"/>
<g clip-path="url(#cpC2)">
<g filter="url(#sh)">
<ellipse cx="302" cy="327.5" rx="12.5" ry="15.5" fill="#000" opacity="0.35"/>
</g>
<path d="M283.5 327.5h.8v.8h-.8zM284.5 330h.8v.8h-.8zM285.5 329.5h.8v.8h-.8zM286.5 299h.8v.8h-.8zM286.5 321.5h.8v.8h-.8zM287 320.5h.8v.8h-.8zM287 329h.8v.8h-.8zM289 340.5h.8v.8h-.8zM290 326.5h.8v.8h-.8zM290.5 312.5h.8v.8h-.8zM290.5 322h.8v.8h-.8zM291 304h.8v.8h-.8zM291.5 311.5h.8v.8h-.8zM291.5 334.5h.8v.8h-.8zM293 314.5h.8v.8h-.8zM293 318h.8v.8h-.8zM293 327h.8v.8h-.8zM293 335h.8v.8h-.8zM294 319.5h.8v.8h-.8zM294 320h.8v.8h-.8zM294 334.5h.8v.8h-.8zM295 306h.8v.8h-.8zM295 319h.8v.8h-.8zM295 321h.8v.8h-.8zM295 333h.8v.8h-.8zM295.5 318.5h.8v.8h-.8zM295.5 326.5h.8v.8h-.8zM295.5 327h.8v.8h-.8zM295.5 331.5h.8v.8h-.8zM296 333h.8v.8h-.8zM296.5 322h.8v.8h-.8zM297 326h.8v.8h-.8zM297.5 323h.8v.8h-.8zM297.5 327.5h.8v.8h-.8zM297.5 329h.8v.8h-.8zM298 309h.8v.8h-.8zM298 322h.8v.8h-.8zM298.5 333.5h.8v.8h-.8zM299 329h.8v.8h-.8zM299 330h.8v.8h-.8zM299.5 313.5h.8v.8h-.8zM299.5 339.5h.8v.8h-.8zM300.5 320h.8v.8h-.8zM300.5 324h.8v.8h-.8zM300.5 327.5h.8v.8h-.8zM300.5 338.5h.8v.8h-.8zM301 314h.8v.8h-.8zM301 316.5h.8v.8h-.8zM301.5 324h.8v.8h-.8zM302 328h.8v.8h-.8zM302 341.5h.8v.8h-.8zM303 313h.8v.8h-.8zM303 322.5h.8v.8h-.8zM303 324.5h.8v.8h-.8zM303.5 317h.8v.8h-.8zM303.5 341h.8v.8h-.8zM304 311h.8v.8h-.8zM304 316h.8v.8h-.8zM304.5 304.5h.8v.8h-.8zM304.5 312h.8v.8h-.8zM304.5 313.5h.8v.8h-.8zM304.5 315h.8v.8h-.8zM304.5 336h.8v.8h-.8zM305 324h.8v.8h-.8zM305.5 335h.8v.8h-.8zM305.5 340.5h.8v.8h-.8zM305.5 342.5h.8v.8h-.8zM306 304.5h.8v.8h-.8zM306 309h.8v.8h-.8zM306 317h.8v.8h-.8zM306 318.5h.8v.8h-.8zM306 334h.8v.8h-.8zM306.5 330.5h.8v.8h-.8zM307 327.5h.8v.8h-.8zM307.5 299h.8v.8h-.8zM308.5 325h.8v.8h-.8zM308.5 332.5h.8v.8h-.8zM308.5 338.5h.8v.8h-.8zM309 288h.8v.8h-.8zM309 324.5h.8v.8h-.8zM309.5 318h.8v.8h-.8zM309.5 320.5h.8v.8h-.8zM309.5 339.5h.8v.8h-.8zM310 316h.8v.8h-.8zM310 319h.8v.8h-.8zM310 319.5h.8v.8h-.8zM310.5 295h.8v.8h-.8zM310.5 328h.8v.8h-.8zM310.5 337h.8v.8h-.8zM311 314.5h.8v.8h-.8zM311 318h.8v.8h-.8zM311 330h.8v.8h-.8zM311.5 323.5h.8v.8h-.8zM312 332.5h.8v.8h-.8zM312 338h.8v.8h-.8zM312.5 336.5h.8v.8h-.8zM313 329h.8v.8h-.8zM313 334.5h.8v.8h-.8zM313 338.5h.8v.8h-.8zM313.5 321h.8v.8h-.8zM314 342h.8v.8h-.8zM315.5 326h.8v.8h-.8zM316 320h.8v.8h-.8zM316 338h.8v.8h-.8zM317 337.5h.8v.8h-.8zM317.5 334.5h.8v.8h-.8zM318 325h.8v.8h-.8zM318 330h.8v.8h-.8zM319.5 312h.8v.8h-.8zM322 322.5h.8v.8h-.8zM327.5 341.5h.8v.8h-.8z" fill="#111" opacity="0.85"/>
<g filter="url(#jet)">
<ellipse cx="299" cy="326" rx="10" ry="15" fill="url(#flat)" opacity="0.3" transform="rotate(-15 299 326)"/>
<ellipse cx="302" cy="330" rx="11" ry="12.5" fill="url(#lobe)" opacity="1.0"/>
<ellipse cx="295.8" cy="318.5" rx="5.5" ry="7.5" fill="url(#cone)" opacity="0.45" transform="rotate(-20 295.8 318.5)"/>
<ellipse cx="302.7" cy="330.8" rx="2.2" ry="3" fill="url(#flat)" opacity="0.9"/>
</g>
</g>
<polygon points="284.4,299.2 304.6,299.2 304.6,318.6 290.4,327.6 284.4,327.6" fill="none" stroke="#555" stroke-width="0.9"/>
<line x1="282.4" y1="282.4" x2="282.4" y2="345" stroke="#555" stroke-width="0.9"/>
<line x1="282.4" y1="345" x2="350.7" y2="345" stroke="#555" stroke-width="0.9"/>
<line x1="280.4" y1="287.4" x2="282.4" y2="287.4" stroke="#555" stroke-width="0.7"/>
<line x1="280.4" y1="298.0" x2="282.4" y2="298.0" stroke="#555" stroke-width="0.7"/>
<line x1="280.4" y1="308.7" x2="282.4" y2="308.7" stroke="#555" stroke-width="0.7"/>
<line x1="280.4" y1="320.0" x2="282.4" y2="320.0" stroke="#555" stroke-width="0.7"/>
<line x1="280.4" y1="330.6" x2="282.4" y2="330.6" stroke="#555" stroke-width="0.7"/>
<rect x="280.4" y="331.2" width="1.8" height="3" fill="#333"/>
<line x1="290.6" y1="345" x2="290.6" y2="347" stroke="#555" stroke-width="0.7"/>
<line x1="302.9" y1="345" x2="302.9" y2="347" stroke="#555" stroke-width="0.7"/>
<line x1="317.9" y1="345" x2="317.9" y2="347" stroke="#555" stroke-width="0.7"/>
<line x1="330.2" y1="345" x2="330.2" y2="347" stroke="#555" stroke-width="0.7"/>
<line x1="342.5" y1="345" x2="342.5" y2="347" stroke="#555" stroke-width="0.7"/>
<rect x="296.1" y="345.3" width="3" height="1.8" fill="#333"/>
<line x1="288.4" y1="346.1" x2="344.7" y2="346.1" stroke="#777" stroke-width="1.4" stroke-dasharray="0.6 1.7"/>
<line x1="281.29999999999995" y1="287.4" x2="281.29999999999995" y2="341" stroke="#888" stroke-width="1.2" stroke-dasharray="0.6 2.6"/>
<text x="292.50" y="297.00" font-size="11.4" fill="#1f44ff" stroke="#1f44ff" stroke-width="0.3" text-anchor="middle" textLength="12.80" lengthAdjust="spacingAndGlyphs">14</text>
<clipPath id="cpC3"><rect x="213.4" y="367.1" width="67.29999999999998" height="62.39999999999998"/></clipPath>
<rect x="213.4" y="367.1" width="67.29999999999998" height="62.39999999999998" fill="#fff" stroke="#a0a0a0" stroke-width="0.9"/>
<g clip-path="url(#cpC3)">
<g filter="url(#sh)">
<ellipse cx="230" cy="402" rx="13" ry="18.5" fill="#000" opacity="0.12" transform="rotate(-33 230 402)"/>
</g>
<path d="M215 405h.8v.8h-.8zM215 413h.8v.8h-.8zM215.5 393.5h.8v.8h-.8zM216.5 423h.8v.8h-.8zM218.5 414.5h.8v.8h-.8zM220.5 395h.8v.8h-.8zM221 396h.8v.8h-.8zM221 399h.8v.8h-.8zM222 405h.8v.8h-.8zM223.5 424.5h.8v.8h-.8zM224 392.5h.8v.8h-.8zM225.5 418h.8v.8h-.8zM226 385.5h.8v.8h-.8zM226 389.5h.8v.8h-.8zM226.5 382.5h.8v.8h-.8zM227 400.5h.8v.8h-.8zM228 408.5h.8v.8h-.8zM228.5 398h.8v.8h-.8zM229 415.5h.8v.8h-.8zM230 391.5h.8v.8h-.8zM230 397.5h.8v.8h-.8zM231.5 419h.8v.8h-.8zM232.5 385h.8v.8h-.8zM233.5 407.5h.8v.8h-.8zM234.5 401.5h.8v.8h-.8zM234.5 407h.8v.8h-.8zM235 392.5h.8v.8h-.8zM235.5 382.5h.8v.8h-.8zM235.5 404.5h.8v.8h-.8zM236.5 393.5h.8v.8h-.8zM236.5 401h.8v.8h-.8zM236.5 408.5h.8v.8h-.8zM236.5 409h.8v.8h-.8zM237 400h.8v.8h-.8zM237 417.5h.8v.8h-.8zM238 394h.8v.8h-.8zM238 405h.8v.8h-.8zM238.5 414.5h.8v.8h-.8zM240.5 378.5h.8v.8h-.8zM241.5 409h.8v.8h-.8zM242.5 405h.8v.8h-.8zM243 404h.8v.8h-.8zM243 407.5h.8v.8h-.8zM245 375.5h.8v.8h-.8zM247 406.5h.8v.8h-.8zM247 409.5h.8v.8h-.8zM248.5 410h.8v.8h-.8zM252.5 384.5h.8v.8h-.8z" fill="#111" opacity="0.85"/>
<g filter="url(#jet)">
<ellipse cx="230.5" cy="403" rx="12" ry="17.5" fill="url(#flat)" opacity="0.32" transform="rotate(-33 230.5 403)"/>
<ellipse cx="225" cy="397" rx="8.6" ry="11.2" fill="url(#lobe)" opacity="1.0" transform="rotate(-15 225 397)"/>
<ellipse cx="235.3" cy="408" rx="8.4" ry="11" fill="url(#lobe)" opacity="0.6" transform="rotate(-35 235.3 408)"/>
<ellipse cx="225.2" cy="396" rx="2.8" ry="3.6" fill="url(#flat)" opacity="0.95"/>
<ellipse cx="236.2" cy="407" rx="2.5" ry="2.5" fill="url(#cone)" opacity="0.35"/>
</g>
</g>
<polygon points="215.2,383.3 235.9,383.3 235.9,402.6 222.2,411.5 215.2,411.5" fill="none" stroke="#555" stroke-width="0.9"/>
<line x1="213.4" y1="367.1" x2="213.4" y2="429.5" stroke="#555" stroke-width="0.9"/>
<line x1="213.4" y1="429.5" x2="280.7" y2="429.5" stroke="#555" stroke-width="0.9"/>
<line x1="211.4" y1="372.1" x2="213.4" y2="372.1" stroke="#555" stroke-width="0.7"/>
<line x1="211.4" y1="382.7" x2="213.4" y2="382.7" stroke="#555" stroke-width="0.7"/>
<line x1="211.4" y1="393.3" x2="213.4" y2="393.3" stroke="#555" stroke-width="0.7"/>
<line x1="211.4" y1="404.5" x2="213.4" y2="404.5" stroke="#555" stroke-width="0.7"/>
<line x1="211.4" y1="415.1" x2="213.4" y2="415.1" stroke="#555" stroke-width="0.7"/>
<rect x="211.4" y="415.8" width="1.8" height="3" fill="#333"/>
<line x1="221.5" y1="429.5" x2="221.5" y2="431.5" stroke="#555" stroke-width="0.7"/>
<line x1="233.6" y1="429.5" x2="233.6" y2="431.5" stroke="#555" stroke-width="0.7"/>
<line x1="248.4" y1="429.5" x2="248.4" y2="431.5" stroke="#555" stroke-width="0.7"/>
<line x1="260.5" y1="429.5" x2="260.5" y2="431.5" stroke="#555" stroke-width="0.7"/>
<line x1="272.6" y1="429.5" x2="272.6" y2="431.5" stroke="#555" stroke-width="0.7"/>
<rect x="226.9" y="429.8" width="3" height="1.8" fill="#333"/>
<line x1="219.4" y1="430.6" x2="274.7" y2="430.6" stroke="#777" stroke-width="1.4" stroke-dasharray="0.6 1.7"/>
<line x1="212.3" y1="372.1" x2="212.3" y2="425.5" stroke="#888" stroke-width="1.2" stroke-dasharray="0.6 2.6"/>
<text x="225.50" y="380.60" font-size="11.4" fill="#1f44ff" stroke="#1f44ff" stroke-width="0.3" text-anchor="middle" textLength="13.60" lengthAdjust="spacingAndGlyphs">70</text>
<clipPath id="cpC4"><rect x="283.4" y="367.4" width="67.30000000000001" height="61.80000000000001"/></clipPath>
<rect x="283.4" y="367.4" width="67.30000000000001" height="61.80000000000001" fill="#fff" stroke="#a0a0a0" stroke-width="0.9"/>
<g clip-path="url(#cpC4)">
<g filter="url(#sh)">
<ellipse cx="300" cy="402" rx="12.5" ry="17.5" fill="#000" opacity="0.12" transform="rotate(-33 300 402)"/>
</g>
<path d="M284.5 400h.8v.8h-.8zM285.5 401.5h.8v.8h-.8zM286 373h.8v.8h-.8zM286 392h.8v.8h-.8zM286.5 377.5h.8v.8h-.8zM286.5 417h.8v.8h-.8zM287.5 420.5h.8v.8h-.8zM288.5 398.5h.8v.8h-.8zM288.5 418h.8v.8h-.8zM289 405h.8v.8h-.8zM289.5 413.5h.8v.8h-.8zM290 405h.8v.8h-.8zM292 416.5h.8v.8h-.8zM293 373h.8v.8h-.8zM293 390.5h.8v.8h-.8zM293 396h.8v.8h-.8zM295 405.5h.8v.8h-.8zM296.5 405h.8v.8h-.8zM299 413.5h.8v.8h-.8zM299.5 403h.8v.8h-.8zM301 390h.8v.8h-.8zM301 413h.8v.8h-.8zM301.5 410h.8v.8h-.8zM302 407.5h.8v.8h-.8zM302.5 404.5h.8v.8h-.8zM303.5 400.5h.8v.8h-.8zM303.5 404h.8v.8h-.8zM305 396.5h.8v.8h-.8zM305 412.5h.8v.8h-.8zM305 420.5h.8v.8h-.8zM306 394.5h.8v.8h-.8zM306 405.5h.8v.8h-.8zM306.5 389h.8v.8h-.8zM306.5 405.5h.8v.8h-.8zM306.5 422h.8v.8h-.8zM307 401h.8v.8h-.8zM308 402h.8v.8h-.8zM309 402h.8v.8h-.8zM309.5 410h.8v.8h-.8zM310 402.5h.8v.8h-.8zM310.5 392h.8v.8h-.8zM311 396.5h.8v.8h-.8zM311 414.5h.8v.8h-.8zM311 416.5h.8v.8h-.8zM312.5 411.5h.8v.8h-.8zM313 407.5h.8v.8h-.8zM319.5 412.5h.8v.8h-.8zM332.5 389.5h.8v.8h-.8zM346.5 369.5h.8v.8h-.8z" fill="#111" opacity="0.85"/>
<g filter="url(#jet)">
<ellipse cx="300" cy="402" rx="11.5" ry="16.5" fill="url(#flat)" opacity="0.32" transform="rotate(-33 300 402)"/>
<ellipse cx="294.8" cy="397" rx="8.6" ry="11" fill="url(#lobe)" opacity="1.0" transform="rotate(-15 294.8 397)"/>
<ellipse cx="304.8" cy="407" rx="8.2" ry="10.3" fill="url(#lobe)" opacity="0.58" transform="rotate(-35 304.8 407)"/>
<ellipse cx="294.8" cy="395.7" rx="2.8" ry="3.2" fill="url(#flat)" opacity="0.95"/>
<ellipse cx="305.3" cy="406.7" rx="2.5" ry="2.5" fill="url(#cone)" opacity="0.35"/>
</g>
</g>
<polygon points="285.2,383.5 305.6,383.5 305.6,402.9 293.5,411.8 285.2,411.8" fill="none" stroke="#555" stroke-width="0.9"/>
<line x1="283.4" y1="367.4" x2="283.4" y2="429.2" stroke="#555" stroke-width="0.9"/>
<line x1="283.4" y1="429.2" x2="350.7" y2="429.2" stroke="#555" stroke-width="0.9"/>
<line x1="281.4" y1="372.3" x2="283.4" y2="372.3" stroke="#555" stroke-width="0.7"/>
<line x1="281.4" y1="382.8" x2="283.4" y2="382.8" stroke="#555" stroke-width="0.7"/>
<line x1="281.4" y1="393.4" x2="283.4" y2="393.4" stroke="#555" stroke-width="0.7"/>
<line x1="281.4" y1="404.5" x2="283.4" y2="404.5" stroke="#555" stroke-width="0.7"/>
<line x1="281.4" y1="415.0" x2="283.4" y2="415.0" stroke="#555" stroke-width="0.7"/>
<rect x="281.4" y="415.6" width="1.8" height="3" fill="#333"/>
<line x1="291.5" y1="429.2" x2="291.5" y2="431.2" stroke="#555" stroke-width="0.7"/>
<line x1="303.6" y1="429.2" x2="303.6" y2="431.2" stroke="#555" stroke-width="0.7"/>
<line x1="318.4" y1="429.2" x2="318.4" y2="431.2" stroke="#555" stroke-width="0.7"/>
<line x1="330.5" y1="429.2" x2="330.5" y2="431.2" stroke="#555" stroke-width="0.7"/>
<line x1="342.6" y1="429.2" x2="342.6" y2="431.2" stroke="#555" stroke-width="0.7"/>
<rect x="296.9" y="429.5" width="3" height="1.8" fill="#333"/>
<line x1="289.4" y1="430.3" x2="344.7" y2="430.3" stroke="#777" stroke-width="1.4" stroke-dasharray="0.6 1.7"/>
<line x1="282.29999999999995" y1="372.4" x2="282.29999999999995" y2="425.2" stroke="#888" stroke-width="1.2" stroke-dasharray="0.6 2.6"/>
<text x="295.10" y="380.90" font-size="11.4" fill="#1f44ff" stroke="#1f44ff" stroke-width="0.3" text-anchor="middle" textLength="13.50" lengthAdjust="spacingAndGlyphs">75</text>
<text x="226.30" y="33.30" font-size="11.2" fill="#1a1a1a" stroke="#1a1a1a" stroke-width="0.15" font-style="italic" textLength="114.50" lengthAdjust="spacingAndGlyphs">viable CD45<tspan font-size="7.5" dy="-4">+</tspan><tspan dy="4"> singlets</tspan></text>
<text x="233.20" y="49.80" font-size="11.6" fill="#1a1a1a" stroke="#1a1a1a" stroke-width="0.18" textLength="31.60" lengthAdjust="spacingAndGlyphs">Blood</text>
<text x="300.50" y="49.80" font-size="11.6" fill="#1a1a1a" stroke="#1a1a1a" stroke-width="0.18" textLength="37.60" lengthAdjust="spacingAndGlyphs">Spleen</text>
<text x="223.10" y="132.20" font-size="11.6" fill="#1a1a1a" stroke="#1a1a1a" stroke-width="0.18" textLength="52.80" lengthAdjust="spacingAndGlyphs">Thrombus</text>
<text x="294.90" y="132.20" font-size="11.6" fill="#1a1a1a" stroke="#1a1a1a" stroke-width="0.18" textLength="49.30" lengthAdjust="spacingAndGlyphs">Vein Wall</text>
<text x="207.20" y="140.20" font-size="11.2" fill="#333" stroke="#333" stroke-width="0.2" textLength="24.20" lengthAdjust="spacingAndGlyphs" transform="rotate(-90 207.20 140.20)">Foxp3</text>
<text x="274.30" y="216.10" font-size="12.2" fill="#333" stroke="#333" stroke-width="0.22" textLength="17.60" lengthAdjust="spacingAndGlyphs">CD4</text>
<text x="230.50" y="259.00" font-size="11.2" fill="#1a1a1a" stroke="#1a1a1a" stroke-width="0.15" font-style="italic" textLength="101.60" lengthAdjust="spacingAndGlyphs">viable Treg singlets</text>
<text x="230.50" y="276.10" font-size="11.6" fill="#1a1a1a" stroke="#1a1a1a" stroke-width="0.18" textLength="31.00" lengthAdjust="spacingAndGlyphs">Blood</text>
<text x="298.30" y="276.10" font-size="11.6" fill="#1a1a1a" stroke="#1a1a1a" stroke-width="0.18" textLength="36.40" lengthAdjust="spacingAndGlyphs">Spleen</text>
<text x="220.10" y="362.30" font-size="11.6" fill="#1a1a1a" stroke="#1a1a1a" stroke-width="0.18" textLength="52.60" lengthAdjust="spacingAndGlyphs">Thrombus</text>
<text x="292.20" y="362.20" font-size="11.6" fill="#1a1a1a" stroke="#1a1a1a" stroke-width="0.18" textLength="49.20" lengthAdjust="spacingAndGlyphs">Vein Wall</text>
<text x="205.10" y="368.20" font-size="11.8" fill="#333" stroke="#333" stroke-width="0.2" textLength="22.00" lengthAdjust="spacingAndGlyphs" transform="rotate(-90 205.10 368.20)">CD69</text>
<text x="261.70" y="445.50" font-size="11.6" fill="#333" stroke="#333" stroke-width="0.2" textLength="39.40" lengthAdjust="spacingAndGlyphs">KLF2-GFP</text>
<rect x="0.5" y="0.5" width="519" height="456" fill="none" stroke="#000" stroke-width="1"/>
<rect x="1.5" y="1.5" width="517" height="454" fill="none" stroke="#000" stroke-width="1" opacity="0.45"/>
</svg></body></html>
